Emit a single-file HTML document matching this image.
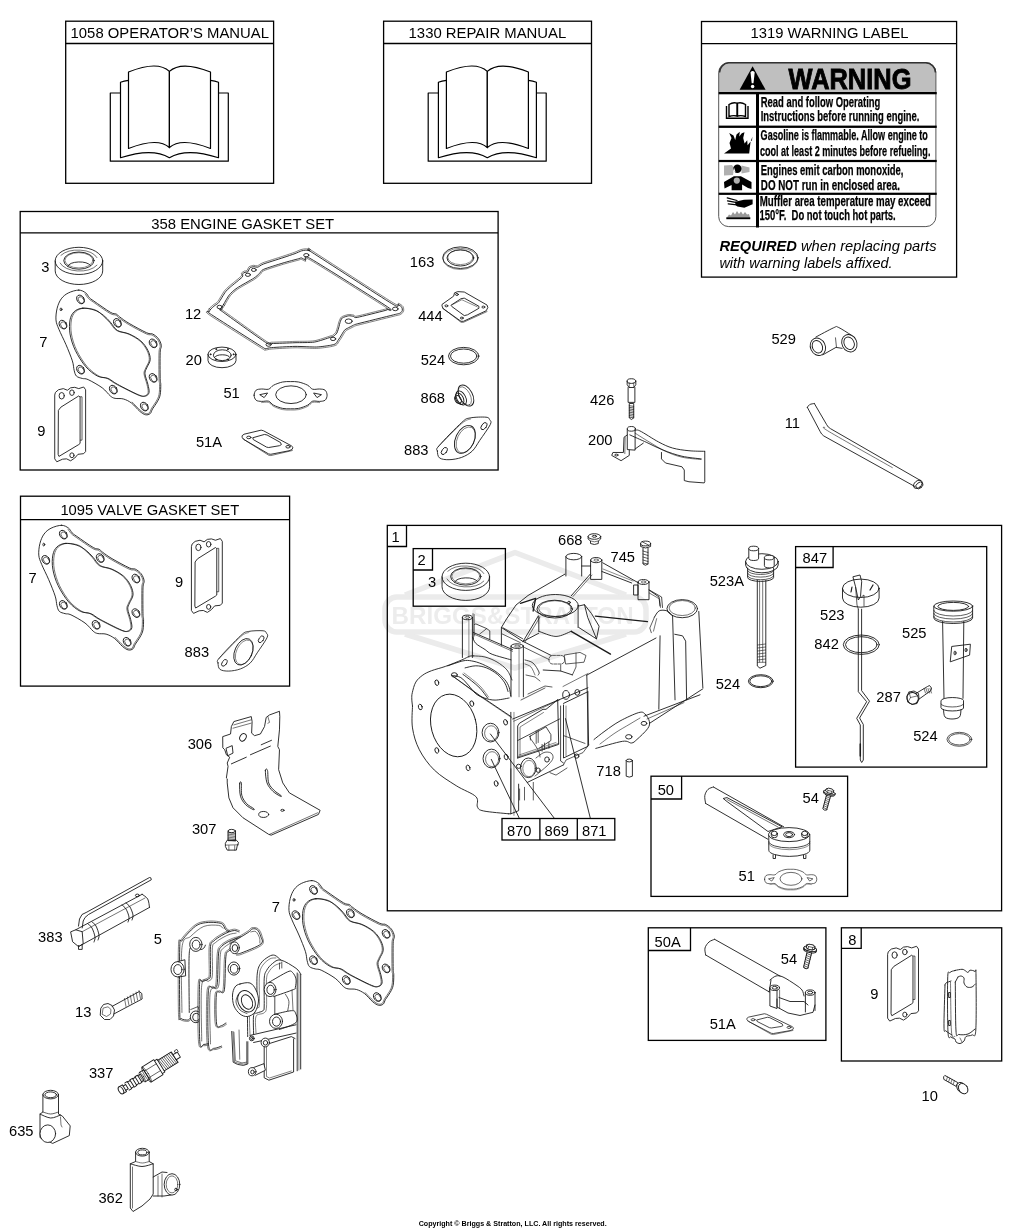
<!DOCTYPE html>
<html><head><meta charset="utf-8">
<style>
html,body{margin:0;padding:0;background:#fff;width:1025px;height:1230px;overflow:hidden}
svg{display:block;will-change:transform}
text{font-family:"Liberation Sans",sans-serif;fill:#000}
.bx{fill:none;stroke:#000;stroke-width:1.3}
.ln{fill:none;stroke:#000;stroke-width:1}
.hd{font-size:14.8px}
.lb{font-size:14.7px}
.pt{fill:none;stroke:#1a1a1a;stroke-width:0.9;stroke-linejoin:round;stroke-linecap:round}
</style></head><body>
<svg width="1025" height="1230" viewBox="0 0 1025 1230">

<defs>
<g id="book" fill="#fff" stroke="#000" stroke-width="1.2" stroke-linejoin="round">
<path d="M120.5 93H110.3V161.2H228.3V93H218.5"/>
<path d="M128.5 80.3Q124 81 120.5 82.2V157.7C135 153 155 149 169.4 157.7C184 149 204 153 218.5 157.7V82.2Q215 81 210.5 80.3"/>
<path d="M169.4 71.4C161 63.5 146 65 128.5 72V148.5C145 142 160 139 169.4 147.5Z"/>
<path d="M169.4 71.4C178 63.5 193 65 210.5 72V148.5C194 142 179 139 169.4 147.5Z"/>
</g>
</defs>
<use href="#book"/>
<use href="#book" x="317.9"/>

<!-- WARNING LABEL -->
<defs><clipPath id="wclip"><rect x="718.7" y="62.6" width="217.2" height="164" rx="10"/></clipPath></defs>
<rect x="718.7" y="62.6" width="217.2" height="31" fill="#bfbfbf" clip-path="url(#wclip)"/>
<rect x="718.7" y="62.6" width="217.2" height="164" rx="10" fill="none" stroke="#555" stroke-width="1"/>
<path d="M719.5 72.6A10 10 0 0 1 728.7 62.8H925.8A10 10 0 0 1 935.5 72.6" fill="none" stroke="#333" stroke-width="1.6"/>
<g fill="#000">
<rect x="718.7" y="92" width="218" height="2.3"/>
<rect x="718.7" y="125.6" width="218" height="2.3"/>
<rect x="718.7" y="159.9" width="218" height="2.2"/>
<rect x="718.7" y="192.7" width="218" height="2.2"/>
<rect x="756" y="93" width="3" height="134.5"/>
<path d="M752.6 66.2L739.6 89.8H765.6Z"/>
</g>
<path d="M750.5 72.3Q752.6 69.8 754.7 72.3L753.5 83.2H751.7Z" fill="#fff"/>
<circle cx="752.6" cy="86.6" r="1.75" fill="#fff"/>
<text x="788.6" y="89.4" style="font-size:29.5px;font-weight:bold;stroke:#000;stroke-width:0.9" textLength="122.8" lengthAdjust="spacingAndGlyphs">WARNING</text>
<g style="font-size:14px;font-weight:bold;stroke:#000;stroke-width:0.25">
<text x="760.7" y="106.8" textLength="119.6" lengthAdjust="spacingAndGlyphs">Read and follow Operating</text>
<text x="760.7" y="120.7" textLength="158.8" lengthAdjust="spacingAndGlyphs">Instructions before running engine.</text>
<text x="760.6" y="140" textLength="167.3" lengthAdjust="spacingAndGlyphs">Gasoline is flammable. Allow engine to</text>
<text x="759.9" y="155.6" textLength="170.5" lengthAdjust="spacingAndGlyphs">cool at least 2 minutes before refueling.</text>
<text x="760.8" y="174.6" textLength="142.6" lengthAdjust="spacingAndGlyphs">Engines emit carbon monoxide,</text>
<text x="760.8" y="189.9" textLength="139.1" lengthAdjust="spacingAndGlyphs">DO NOT run in enclosed area.</text>
<text x="759.7" y="206.2" textLength="171.3" lengthAdjust="spacingAndGlyphs">Muffler area temperature may exceed</text>
<text x="759.4" y="220.3" textLength="136.3" lengthAdjust="spacingAndGlyphs">150°F.&#160; Do not touch hot parts.</text>
</g>
<!-- icons -->
<g fill="none" stroke="#000" stroke-width="1.4">
<path d="M729 104.5Q733 102 737 103.2V116Q733 115 729 116.5Z M745.5 104.5Q741.5 102 737.5 103.2V116Q741.5 115 745.5 116.5Z"/>
<path d="M726.5 106V118.2H748V106"/>
</g>
<path d="M724 153.5L731 148.5L729.5 143L731.5 138L729.2 133L733.5 135.5L735.2 140L736.5 134.5L739.8 131.8L739.2 136.5L741.8 133.2L744.5 132.3L743.2 138L744.6 143.5L747.2 140.2L747.6 145.2L750.6 141.6L749.8 148L749.2 153.5Z" fill="#000"/>
<path d="M750.8 141L752.4 136.8L752 140.5Z" fill="#000"/>
<path d="M724 165.5L732 165L734 168L733 175L724 175.5Z M741.5 165.5L749.5 167.5L749.5 172L741.5 173.5Z" fill="#b0b0b0"/>
<circle cx="737.4" cy="168.8" r="4.2" fill="#000"/>
<path d="M734 167.5L733.2 171.5L735.5 172Z" fill="#fff"/>
<path d="M724 182L733.9 176.2H740.9L751.5 182V189.1L748 188L742.1 184.4V190.2H731.6V185L724.5 188.5Z" fill="#000"/>
<circle cx="736.8" cy="180.6" r="3.1" fill="#b0b0b0"/>
<path d="M735 201.8L744 199.8L752.6 199.6V204.3L744.4 207.8L737.4 206.6L735.5 205Z" fill="#000"/>
<path d="M727.2 197.8L737 200.5M727.5 200.8L737 202.6M728.2 203.8L737 204.8" stroke="#000" stroke-width="1.2" fill="none" stroke-linecap="round"/>
<path d="M727 217.5L729 214.5L731 215.5L733 212L735 214.5L737 211L739 214L741 211.5L743 214.5L745 212L747 214.5L749 214L750 217.5Z" fill="#999"/>
<rect x="726.3" y="217.3" width="24" height="1.9" fill="#000"/>
<text x="719.4" y="251.4" style="font-size:14.7px;font-style:italic"><tspan style="font-weight:bold">REQUIRED</tspan> when replacing parts</text>
<text x="719.4" y="268.3" style="font-size:14.7px;font-style:italic" textLength="173.2" lengthAdjust="spacingAndGlyphs">with warning labels affixed.</text>
<g fill="none" stroke="#ebebeb" stroke-width="5.5" stroke-linejoin="round"><rect x="385" y="597" width="261" height="35" rx="12"/><path d="M405 595L515 552.5L626 595M405 634L515 668L626 634"/></g>
<text x="391.6" y="624.4" textLength="242" lengthAdjust="spacingAndGlyphs" style="font-size:23.8px;font-weight:bold;fill:#ececec">BRIGGS&amp;STRATTON</text>
<defs><g id="hg" class="pt"><path d="M61.61 525.27 C64.54 525.27 66.88 526.93 68.63 528.19 C70.39 529.46 70.78 531.51 72.14 532.88 C73.51 534.24 73.32 533.95 76.83 536.39 C80.34 538.83 89.51 545.36 93.22 547.51 C96.92 549.66 97.51 548.49 99.07 549.27 C100.63 550.05 100.44 550.63 102.58 552.19 C104.73 553.75 107.46 556 111.95 558.63 C116.44 561.27 125.61 566.24 129.51 568 C133.41 569.75 133.41 568.19 135.36 569.17 C137.31 570.14 139.75 571.9 141.22 573.85 C142.68 575.8 143.85 578.53 144.14 580.88 C144.43 583.22 143.17 582.44 142.97 587.9 C142.78 593.36 142.87 608.39 142.97 613.65 C143.07 618.92 143.56 616.78 143.56 619.51 C143.56 622.24 143.56 627.12 142.97 630.04 C142.39 632.97 141.31 634.73 140.04 637.07 C138.78 639.41 136.53 642.14 135.36 644.09 C134.19 646.04 134.19 647.8 133.02 648.78 C131.85 649.75 130.09 650.34 128.34 649.95 C126.58 649.56 124.83 648.39 122.48 646.43 C120.14 644.48 117.02 640.29 114.29 638.24 C111.56 636.19 108.83 634.92 106.09 634.14 C103.36 633.36 100.05 634.04 97.9 633.56 C95.75 633.07 95.36 632.97 93.22 631.22 C91.07 629.46 88.73 625.75 85.02 623.02 C81.32 620.29 74.29 616.39 70.97 614.83 C67.66 613.26 67.07 614.24 65.12 613.65 C63.17 613.07 60.63 612.68 59.27 611.31 C57.9 609.95 57.61 608 56.93 605.46 C56.24 602.92 56.54 600.39 55.17 596.09 C53.8 591.8 50.97 584.97 48.73 579.7 C46.49 574.44 43.37 568.58 41.71 564.49 C40.05 560.39 39.07 558.63 38.78 555.12 C38.49 551.61 39.07 546.93 39.95 543.41 C40.83 539.9 42.19 536.58 44.05 534.05 C45.9 531.51 48.15 529.66 51.07 528.19 C54 526.73 58.68 525.27 61.61 525.27Z"/><path d="M65.12 543.41 C68.44 543.12 73.32 544 76.83 545.17 C80.34 546.34 83.46 548.39 86.19 550.44 C88.92 552.49 90.88 554.93 93.22 557.46 C95.56 560 97.12 563.71 100.24 565.66 C103.36 567.61 108.05 567.41 111.95 569.17 C115.85 570.92 120.53 573.46 123.65 576.19 C126.78 578.92 129.12 582.44 130.68 585.56 C132.24 588.68 133.22 592 133.02 594.92 C132.83 597.85 130.39 600.78 129.51 603.12 C128.63 605.46 127.56 606.24 127.75 608.97 C127.95 611.7 130 616.39 130.68 619.51 C131.36 622.63 132.24 625.75 131.85 627.7 C131.46 629.65 130.09 630.82 128.34 631.22 C126.58 631.61 126 632 121.31 630.04 C116.63 628.09 105.31 622.24 100.24 619.51 C95.17 616.78 94.19 615.02 90.88 613.65 C87.56 612.29 84.05 613.26 80.34 611.31 C76.63 609.36 72.34 606.24 68.63 601.95 C64.93 597.66 60.73 591.02 58.1 585.56 C55.46 580.1 53.71 574.24 52.83 569.17 C51.95 564.1 52.15 558.83 52.83 555.12 C53.51 551.41 54.88 548.88 56.93 546.93 C58.97 544.97 61.8 543.71 65.12 543.41Z"/><path d="M66.53 543.41 C69.84 543.12 75.11 544 78.23 545.17 C81.35 546.34 82.92 548.39 85.26 550.44 C87.6 552.49 89.94 554.93 92.28 557.46 C94.62 560 96.18 563.71 99.3 565.66 C102.43 567.61 107.11 567.41 111.01 569.17 C114.91 570.92 119.6 573.46 122.72 576.19 C125.84 578.92 128.18 582.44 129.74 585.56 C131.3 588.68 132.28 592 132.08 594.92 C131.89 597.85 129.45 600.78 128.57 603.12 C127.69 605.46 126.62 606.24 126.82 608.97 C127.01 611.7 129.06 616.39 129.74 619.51 C130.43 622.63 131.3 625.75 130.91 627.7 C130.52 629.65 129.16 630.82 127.4 631.22 C125.65 631.61 125.06 632 120.38 630.04 C115.69 628.09 104.38 622.24 99.3 619.51 C94.23 616.78 92.87 615.02 89.94 613.65 C87.01 612.29 85.06 613.26 81.74 611.31 C78.43 609.36 73.74 606.24 70.04 601.95 C66.33 597.66 62.14 591.02 59.5 585.56 C56.87 580.1 55.11 574.24 54.23 569.17 C53.36 564.1 53.55 558.83 54.23 555.12 C54.92 551.41 56.28 548.88 58.33 546.93 C60.38 544.97 63.21 543.71 66.53 543.41Z" stroke-width="0.6"/><path d="M67.95 529.14 C68.51 529.9 69.95 532.34 71.32 533.71 C72.69 535.07 72.61 534.88 76.16 537.35 C79.71 539.82 88.9 546.36 92.63 548.52 C96.36 550.68 97 549.54 98.55 550.31 C100.09 551.08 99.76 551.59 101.89 553.14 C104.03 554.7 106.83 556.99 111.36 559.64 C115.88 562.3 125.11 567.3 129.03 569.07 C132.94 570.83 132.96 569.3 134.84 570.22 C136.71 571.13 138.92 572.75 140.28 574.55 C141.64 576.35 142.73 578.8 142.98 581.02 C143.23 583.24 142 582.42 141.8 587.86 C141.6 593.3 141.7 608.4 141.8 613.68 C141.9 618.95 142.38 616.82 142.39 619.51 C142.39 622.2 142.39 626.98 141.82 629.81 C141.26 632.65 140.26 634.23 139.02 636.51 C137.77 638.79 135.48 641.6 134.36 643.49 C133.23 645.38 133.23 646.99 132.27 647.88 C131.31 648.76 130.1 649.19 128.59 648.8 C127.09 648.41 125.5 647.45 123.23 645.53 C120.97 643.62 116.37 638.67 114.99 637.3" stroke-width="0.6"/><ellipse cx="63.36" cy="534.63" rx="3.51" ry="4.68" transform="rotate(-35 63.36 534.63)"/><ellipse cx="63.95" cy="535.22" rx="2.58" ry="3.63" transform="rotate(-35 63.95 535.22)" stroke-width="0.6"/><ellipse cx="45.8" cy="559.8" rx="3.51" ry="4.68" transform="rotate(-35 45.8 559.8)"/><ellipse cx="46.39" cy="560.39" rx="2.58" ry="3.63" transform="rotate(-35 46.39 560.39)" stroke-width="0.6"/><ellipse cx="100.24" cy="558.05" rx="3.51" ry="4.68" transform="rotate(-35 100.24 558.05)"/><ellipse cx="100.83" cy="558.63" rx="2.58" ry="3.63" transform="rotate(-35 100.83 558.63)" stroke-width="0.6"/><ellipse cx="135.95" cy="578.53" rx="3.51" ry="4.68" transform="rotate(-35 135.95 578.53)"/><ellipse cx="136.53" cy="579.12" rx="2.58" ry="3.63" transform="rotate(-35 136.53 579.12)" stroke-width="0.6"/><ellipse cx="63.36" cy="604.87" rx="3.51" ry="4.68" transform="rotate(-35 63.36 604.87)"/><ellipse cx="63.95" cy="605.46" rx="2.58" ry="3.63" transform="rotate(-35 63.95 605.46)" stroke-width="0.6"/><ellipse cx="135.95" cy="613.07" rx="3.51" ry="4.68" transform="rotate(-35 135.95 613.07)"/><ellipse cx="136.53" cy="613.65" rx="2.58" ry="3.63" transform="rotate(-35 136.53 613.65)" stroke-width="0.6"/><ellipse cx="96.14" cy="624.78" rx="3.51" ry="4.68" transform="rotate(-35 96.14 624.78)"/><ellipse cx="96.73" cy="625.36" rx="2.58" ry="3.63" transform="rotate(-35 96.73 625.36)" stroke-width="0.6"/><ellipse cx="127.17" cy="641.75" rx="3.51" ry="4.68" transform="rotate(-35 127.17 641.75)"/><ellipse cx="127.75" cy="642.34" rx="2.58" ry="3.63" transform="rotate(-35 127.75 642.34)" stroke-width="0.6"/><ellipse cx="43.81" cy="544.58" rx="0.94" ry="1.4"/></g></defs>
<use href="#hg"/>
<use href="#hg" x="17.2" y="-235.2"/>
<use href="#hg" x="250.2" y="355.3"/>
<defs><g id="g9" class="pt"><path d="M55.69 392.2 L58.46 389.76 L63.33 388.62 L67.4 390.24 L70.65 387.8 L74.72 387.32 L78.78 388.62 L83.66 386.99 L85.61 389.76 L85.61 451.54 L83.66 453.66 L77.97 454.31 L74.72 458.05 L70.65 460.81 L66.59 458.86 L62.52 459.19 L56.83 461.79 L54.72 458.86 L54.72 395.45Z" stroke-linejoin="round"/><path d="M58.62 410.08 L60.89 407.15 L78.78 395.93 L80.08 397.07 L80.08 443.41 L78.78 444.55 L58.94 456.42 L58.29 454.8Z" stroke-linejoin="round"/><ellipse cx="61.71" cy="395.77" rx="2.6" ry="3.25"/><ellipse cx="71.95" cy="392.68" rx="2.28" ry="2.76"/><ellipse cx="71.95" cy="455.28" rx="2.11" ry="2.44"/><path d="M80.41 396.75 L82.03 396.75 L82.03 440.16 L80.41 440.16" stroke-width="0.7"/></g></defs>
<use href="#g9"/>
<use href="#g9" x="136.7" y="151.60000000000002"/>
<use href="#g9" x="832.9" y="559.3"/>
<defs><g id="seal" class="pt"><path d="M-23.75 0V10A23.75 13.6 0 0 0 23.75 10V0"/><ellipse rx="23.75" ry="13.6"/><ellipse rx="15.2" ry="8.6" cy="-0.3"/><ellipse rx="14" ry="7.6" cy="-0.6" stroke-width="0.5"/><path d="M-11.3 5.5A12 5.6 0 0 1 11.6 4.6"/><path d="M-18 -5.6A20 11 0 0 1 18 -3.3" stroke-width="0.6"/><path d="M-18.8 2.2A20 11 0 0 0 18 4.3" stroke-width="0.6"/></g></defs>
<use href="#seal" x="78.95" y="260.9"/>
<use href="#seal" x="465.8" y="576.8"/>
<g class="pt"><path d="M210.4 309.4 C211.02 308.7 213.83 306.29 214.8 305.5 C215.77 304.71 217.45 304.2 218.7 302.6 C219.95 301 224.13 293.62 225.5 291.8 C226.87 289.98 228.46 288.7 230.4 287 C232.34 285.3 240.68 278.74 242.1 277.2 C243.52 275.66 242.26 274.37 242.6 273.8 C242.94 273.23 244.38 272.53 245 272.3 C245.62 272.07 247.33 272.31 247.9 271.8 C248.47 271.29 249.21 268.5 249.9 267.9 C250.59 267.3 252.89 266.78 253.8 266.7 C254.71 266.62 256.57 267.51 257.7 267.2 C258.83 266.88 260.55 265.11 263.5 264 C266.45 262.89 279.32 258.91 283 257.7 C286.68 256.49 292.85 254.39 295 253.6 C297.15 252.81 300.15 251.3 301.4 250.9 C302.65 250.5 304.7 250.2 305.7 250.2 C306.7 250.2 309.24 250.63 310 250.9 C310.76 251.17 302.68 246.36 312.2 252.5 C321.72 258.64 381.59 297.42 391.6 303.5 C401.61 309.58 396.81 304.17 398 304.6 C399.19 305.03 401.3 306.51 401.8 307.2 C402.3 307.89 402.49 309.81 402.3 310.5 C402.11 311.19 401.2 312.6 400.2 313.1 C399.2 313.6 398.72 313.54 393.7 314.8 C388.68 316.06 361.95 322.65 357.2 323.9 C352.45 325.15 354.12 325 353 325.5 C351.88 326 348.6 327.64 347.6 328.2 C346.6 328.76 345.27 329.24 344.4 330.3 C343.52 331.36 340.86 336.11 340.1 337.3 C339.34 338.49 338.4 339.75 337.9 340.5 C337.4 341.25 336.68 343.14 335.8 343.7 C334.93 344.26 332.65 344.92 330.4 345.3 C328.15 345.69 320.63 346.87 316.5 347 C312.37 347.13 300.23 346.33 295 346.4 C289.77 346.47 275.13 347.34 271.7 347.6 C268.27 347.86 266.79 348.73 265.6 348.6 C264.41 348.47 267.96 350.56 261.5 346.5 C255.04 342.44 216.27 317.88 210.2 313.8 C204.13 309.72 209.48 312.01 209.5 311.5 C209.52 310.99 209.78 310.1 210.4 309.4Z"/><path d="M209.35 308.47 C210.03 307.65 212.95 305.2 213.91 304.42 C214.87 303.63 216.38 303.31 217.6 301.74 C218.82 300.17 222.99 292.8 224.38 290.96 C225.77 289.12 227.53 287.66 229.48 285.95 C231.42 284.23 239.68 277.75 241.07 276.25 C242.46 274.75 240.99 273.7 241.4 273.09 C241.8 272.47 243.86 271.26 244.51 270.99 C245.16 270.72 246.44 271.24 246.96 270.76 C247.49 270.27 248.2 267.48 248.98 266.84 C249.77 266.2 252.7 265.42 253.67 265.31 C254.65 265.19 256.24 266.16 257.32 265.85 C258.41 265.55 260.06 263.8 263.01 262.69 C265.95 261.58 278.89 257.58 282.56 256.37 C286.24 255.16 292.37 253.08 294.51 252.29 C296.66 251.49 299.67 249.97 300.98 249.57 C302.28 249.16 304.59 248.8 305.7 248.8 C306.81 248.8 309.62 249.29 310.47 249.58 C311.31 249.87 303.41 245.17 312.96 251.32 C322.51 257.47 382.35 296.24 392.33 302.3 C402.3 308.37 397.24 302.81 398.48 303.28 C399.71 303.76 402.33 305.49 402.93 306.38 C403.54 307.26 403.9 309.94 403.65 310.87 C403.41 311.8 401.95 313.73 400.83 314.35 C399.7 314.97 399.09 314.89 394.04 316.16 C388.99 317.43 362.28 324.02 357.56 325.25 C352.83 326.49 354.65 326.29 353.57 326.78 C352.49 327.26 349.23 328.91 348.28 329.42 C347.34 329.94 346.3 330.18 345.48 331.19 C344.66 332.2 342.03 336.88 341.28 338.05 C340.53 339.23 339.61 340.48 339.06 341.28 C338.51 342.08 337.54 344.25 336.55 344.88 C335.57 345.51 332.97 346.27 330.64 346.68 C328.3 347.09 320.7 348.27 316.54 348.4 C312.39 348.53 300.24 347.73 295.02 347.8 C289.8 347.87 275.25 348.74 271.8 349 C268.35 349.25 266.74 350.14 265.45 349.99 C264.16 349.84 267.29 351.77 260.76 347.69 C254.22 343.6 215.56 319.19 209.42 314.96 C203.28 310.73 208.11 312.19 208.1 311.44 C208.09 310.68 208.67 309.29 209.35 308.47Z" stroke-width="0.55"/><path d="M223.5 304.5 C224.54 302.76 227.8 296.74 229.4 294.8 C231 292.86 234.35 289.84 237.2 287.9 C240.05 285.96 251.19 279.9 253.8 278.2 C256.41 276.5 258.47 274.33 259.6 273.3 C260.73 272.27 260.77 270.6 263.5 269.4 C266.23 268.2 278.89 264.25 283 263 C287.11 261.75 296.55 259.3 298.7 258.7 C300.85 258.1 300.58 257.75 301.4 257.9 C302.22 258.05 304.57 259.87 305.7 260 C306.83 260.13 301.58 253.55 311.1 259 C320.62 264.45 378.41 300.82 387.3 306.7 C396.19 312.58 387.56 308.96 387.3 309.4 C387.04 309.84 388.61 309.57 385.1 310.5 C381.59 311.43 360.89 316.71 357.2 317.4 C353.51 318.09 354.49 316.59 353.5 316.4 C352.51 316.21 350.02 315.61 348.7 315.8 C347.38 315.99 343.2 317.24 342.2 318 C341.2 318.76 340.47 321.3 340.1 322.3 C339.73 323.3 339.37 325.35 339 326.6 C338.63 327.85 337.53 331.88 336.9 333 C336.27 334.12 334.36 335.7 333.6 336.2 C332.84 336.7 332.65 336.61 330.4 337.3 C328.15 337.99 318.43 341.47 314.3 342.1 C310.17 342.73 299.97 342.54 295 342.7 C290.03 342.86 275.13 343.54 271.7 343.5 C268.27 343.46 271.34 346.11 265.6 342.4 C259.86 338.69 227.76 315.51 222.5 311.7 C217.24 307.88 220.38 310.54 220.5 309.7 C220.62 308.86 222.46 306.24 223.5 304.5Z"/><path d="M224.62 305.17 C225.62 303.5 228.85 297.52 230.4 295.63 C231.96 293.74 235.12 290.88 237.93 288.97 C240.74 287.07 251.88 281.01 254.51 279.29 C257.14 277.57 259.36 275.28 260.47 274.26 C261.58 273.25 261.35 271.76 264.02 270.59 C266.7 269.42 279.29 265.48 283.38 264.24 C287.46 263 296.97 260.54 299.05 259.95 C301.12 259.36 300.4 259.02 301.16 259.18 C301.92 259.33 304.47 261.18 305.55 261.29 C306.64 261.4 301 254.7 310.45 260.13 C319.91 265.55 377.75 302.11 386.58 307.78 C395.42 313.46 386.39 308.58 386.17 308.75 C385.96 308.92 388.17 308.38 384.77 309.24 C381.36 310.1 360.58 315.44 356.96 316.12 C353.34 316.81 354.73 315.31 353.74 315.12 C352.76 314.93 349.96 314.3 348.52 314.51 C347.08 314.73 342.54 316.11 341.42 316.96 C340.29 317.82 339.31 320.77 338.88 321.85 C338.45 322.93 338.12 325 337.75 326.23 C337.39 327.45 336.34 331.33 335.77 332.36 C335.2 333.4 333.55 334.68 332.88 335.12 C332.21 335.55 332.21 335.39 330.02 336.06 C327.83 336.72 318.19 340.19 314.1 340.81 C310.01 341.44 299.9 341.24 294.96 341.4 C290.01 341.56 275.06 342.21 271.71 342.2 C268.37 342.19 271.96 344.99 266.31 341.31 C260.65 337.63 228.46 314.31 223.26 310.65 C218.07 306.98 221.63 310.52 221.79 309.88 C221.95 309.24 223.61 306.83 224.62 305.17Z" stroke-width="0.55"/><ellipse cx="306.3" cy="255.2" rx="2.6" ry="1.69"/><ellipse cx="395.3" cy="308.9" rx="2.8" ry="1.82"/><ellipse cx="348.7" cy="321.2" rx="3.5" ry="2.27"/><ellipse cx="333.1" cy="338.9" rx="2.6" ry="1.69"/><ellipse cx="219.6" cy="307" rx="2.6" ry="1.69"/><ellipse cx="247.9" cy="274.8" rx="2.5" ry="1.62"/><ellipse cx="253.8" cy="269.9" rx="2.4" ry="1.56"/><ellipse cx="268.6" cy="344.6" rx="2.6" ry="1.69"/></g>
<g class="pt"><path d="M208 354.3V360.5A14 7.2 0 0 0 236 360.5V354.3"/><ellipse cx="222" cy="354.3" rx="14" ry="7.2"/><ellipse cx="222.3" cy="355.2" rx="8.9" ry="5.4"/><path d="M214.5 357.5A8 3.6 0 0 1 230 357.5"/><circle cx="233.5" cy="354.3" r="0.5" fill="#333"/><circle cx="227.8" cy="359.5" r="0.5" fill="#333"/><circle cx="216.2" cy="359.5" r="0.5" fill="#333"/><circle cx="210.5" cy="354.3" r="0.5" fill="#333"/><circle cx="216.2" cy="349.1" r="0.5" fill="#333"/><circle cx="227.8" cy="349.1" r="0.5" fill="#333"/></g>
<defs><g id="g51" class="pt"><path d="M-36.5 0 C-36.5 -1.67 -35.75 -3.97 -34.5 -5 C-33.25 -6.03 -31.08 -6.03 -29 -6.2 C-26.92 -6.37 -24 -5.37 -22 -6 C-20 -6.63 -19.33 -8.8 -17 -10 C-14.67 -11.2 -10.83 -12.6 -8 -13.2 C-5.17 -13.8 -2.67 -13.6 0 -13.6 C2.67 -13.6 5.17 -13.8 8 -13.2 C10.83 -12.6 14.67 -11.2 17 -10 C19.33 -8.8 20 -6.63 22 -6 C24 -5.37 26.92 -6.37 29 -6.2 C31.08 -6.03 33.25 -6.03 34.5 -5 C35.75 -3.97 36.5 -1.67 36.5 0 C36.5 1.67 35.75 3.97 34.5 5 C33.25 6.03 31.08 6.03 29 6.2 C26.92 6.37 24 5.37 22 6 C20 6.63 19.33 8.8 17 10 C14.67 11.2 10.83 12.6 8 13.2 C5.17 13.8 2.67 13.6 0 13.6 C-2.67 13.6 -5.17 13.8 -8 13.2 C-10.83 12.6 -14.67 11.2 -17 10 C-19.33 8.8 -20 6.63 -22 6 C-24 5.37 -26.92 6.37 -29 6.2 C-31.08 6.03 -33.25 6.03 -34.5 5 C-35.75 3.97 -36.5 1.67 -36.5 0Z"/><path d="M29 7.4 C27.83 7.37 24 6.57 22 7.2 C20 7.83 19.33 10 17 11.2 C14.67 12.4 10.83 13.8 8 14.4 C5.17 15 2.67 14.8 0 14.8 C-2.67 14.8 -5.17 15 -8 14.4 C-10.83 13.8 -14.67 12.4 -17 11.2 C-19.33 10 -20 7.83 -22 7.2 C-24 6.57 -27.83 7.37 -29 7.4" stroke-width="0.5"/><ellipse cx="0.4" cy="-0.5" rx="15.3" ry="8.85"/><path d="M-30.5 -0.6L-23 -2.2L-26.2 2.1Z M30.5 -0.6L23 -2.2L26.2 2.1Z"/></g></defs>
<use href="#g51" transform="translate(290.6 395.2)"/>
<use href="#g51" transform="translate(790.7 879.2) scale(0.715 0.73)"/>
<defs><g id="g51a" class="pt"><path d="M242.39 435.51 L244 434.23 L261.17 430.15 L263.53 430.79 L291.22 445.71 L292.94 447.32 L292.08 449.47 L289.07 450.75 L270.83 454.29 L268.68 453.97 L244 439.59 L242.39 437.66Z"/><path d="M242.71 438.73 L268.68 455.26 L270.83 455.58 L292.29 450.54" stroke-width="0.6"/><path d="M253.12 437.66 L264.39 434.44 L267.07 434.98 L280.49 442.49 L281.35 444.64 L279.42 445.71 L268.68 447.53 L266.54 447.1 L253.66 439.81Z"/><ellipse cx="248.83" cy="437.45" rx="2.15" ry="1.29"/><ellipse cx="288" cy="446.78" rx="2.15" ry="1.29"/></g></defs>
<use href="#g51a"/>
<use href="#g51a" transform="translate(747.2 1013.7) scale(0.917 0.82) translate(-242.4 -430.1)"/>
<g class="pt"><ellipse cx="460.4" cy="257.7" rx="17.7" ry="10.8"/><ellipse cx="460.4" cy="258.9" rx="17.5" ry="10.6" stroke-width="0.5"/><ellipse cx="460.4" cy="257.9" rx="13.4" ry="8.1"/><ellipse cx="460.4" cy="257.3" rx="12.6" ry="7.3" stroke-width="0.5"/></g>
<g class="pt"><path d="M442.32 304.23 L453.7 296.1 L454.51 292.85 L457.76 291.63 L464.27 292.03 L487.03 305.04 L487.85 307.48 L486.22 310.73 L463.46 321.3 L461.02 321.3 L443.13 308.7 L442.15 306.26Z"/><path d="M442.48 307.89 L461.02 322.28 L463.46 322.28 L487.03 311.54" stroke-width="0.6"/><path d="M451.26 305.04 L461.02 298.7 L464.27 298.13 L478.9 306.26 L478.9 308.29 L467.52 314.8 L464.27 315.61 L452.07 306.67Z"/><path d="M452.48 304.63 L461.83 299.76 L477.28 306.83" stroke-width="0.5"/><ellipse cx="456.95" cy="294.47" rx="1.46" ry="0.98"/><ellipse cx="446.38" cy="305.85" rx="1.46" ry="0.98"/><ellipse cx="483.37" cy="307.07" rx="1.46" ry="0.98"/><ellipse cx="461.83" cy="318.05" rx="1.46" ry="0.98"/></g>
<defs><g id="oring" class="pt"><ellipse rx="15.2" ry="8.7"/><ellipse rx="13.2" ry="7.1"/></g></defs>
<use href="#oring" x="463.7" y="356.1"/>
<g class="pt"><ellipse cx="465.95" cy="395.51" rx="11.42" ry="6.56" transform="rotate(62 465.95 395.51)"/><ellipse cx="464.89" cy="396.04" rx="10.05" ry="5.29" transform="rotate(62 464.89 396.04)" stroke-width="0.5"/><ellipse cx="461.19" cy="397.95" rx="7.61" ry="4.44" transform="rotate(62 461.19 397.95)"/><ellipse cx="459.61" cy="398.79" rx="6.13" ry="3.7" transform="rotate(62 459.61 398.79)"/><ellipse cx="458.02" cy="399.53" rx="4.23" ry="2.96" transform="rotate(62 458.02 399.53)"/></g>
<defs><g id="g883" class="pt"><path d="M437.4 451.03 C437.31 449 434.93 450.5 438.99 445.74 C443.04 440.98 456.52 427.11 461.72 422.48 C466.92 417.84 466.13 418.81 470.18 417.93 C474.24 417.05 482.78 416.87 486.04 417.19 C489.3 417.51 489.04 418.6 489.74 419.84 C490.45 421.07 491.95 421.16 490.27 424.59 C488.6 428.03 482.69 436.05 479.7 440.45 C476.7 444.86 475.29 448.21 472.3 451.03 C469.3 453.85 465.6 455.93 461.72 457.37 C457.85 458.82 452.73 459.61 449.03 459.7 C445.33 459.79 441.46 459.35 439.52 457.9 C437.58 456.46 437.49 453.06 437.4 451.03Z"/><path d="M438.25 446.8 C442.16 442.92 456.31 428.17 461.72 423.54 C467.13 418.9 469.21 419.75 470.71 418.99" stroke-width="0.5"/><ellipse cx="464.89" cy="439.4" rx="9.31" ry="14.8" transform="rotate(25 464.89 439.4)"/><ellipse cx="465.74" cy="439.93" rx="8.46" ry="13.75" transform="rotate(25 465.74 439.93)" stroke-width="0.5"/><ellipse cx="483.93" cy="426.18" rx="2.33" ry="4.02" transform="rotate(35 483.93 426.18)"/><ellipse cx="444.28" cy="451.03" rx="2.33" ry="4.02" transform="rotate(35 444.28 451.03)"/></g></defs>
<use href="#g883"/>
<use href="#g883" transform="translate(218 630.6) scale(0.927 0.948) translate(-437.4 -417)"/>
<g class="pt"><path d="M223.08 736.49 L230.54 734 L231.37 726.54 L233.86 721.56 L251.27 716.59 L252.1 721.56 L251.61 733.17 L254.59 735.66 L260.4 734 L264.54 726.54 L266.2 717.42 L269.52 714.93 L279.47 711.28 L279.8 716.59 L279.47 729.86 L277.81 746.44 L279.47 749.76 L278.64 769.66 L282.79 782.93 L289.42 792.88 L320.11 810.3 L318.45 814.45 L271.18 835.18 L268.69 834.35 L242.98 817.76 L233.03 807.81 L228.88 797.86 L227.22 782.93 L227.22 778.79 L226.39 777.96 L228.05 766.35 L227.22 763.03 L229.71 757.22 L226.39 754.74 L224.74 749.76 L223.08 748.1Z"/><path d="M231.37 763.86 L246.3 757.22"/><path d="M250.44 754.74 L270.35 746.11"/><path d="M261.23 744.78 L271.51 740.31"/><path d="M233.86 724.88 L250.94 719.9" stroke-width="0.6"/><path d="M233.03 728.2 L250.94 723.22" stroke-width="0.6"/><path d="M226.39 748.1 L232.2 745.61 L233.03 753.08 L228.05 755.56Z"/><path d="M239.66 783.76 C239.53 785.97 239.53 792.75 240.49 796.2 C241.46 799.66 243.4 802.28 245.47 804.49 C247.54 806.71 251.55 808.78 252.93 809.47 C254.31 810.16 254.81 809.61 253.76 808.64 C252.71 807.67 248.62 805.88 246.63 803.67 C244.64 801.45 242.7 798.83 241.82 795.37 C240.93 791.92 241.68 784.87 241.32 782.93 C240.96 781 239.8 781.55 239.66 783.76Z"/><path d="M265.37 770.49 C265.29 772.57 265.79 779.48 267.03 782.93 C268.28 786.39 270.62 789.01 272.84 791.23 C275.05 793.44 278.97 795.51 280.3 796.2 C281.63 796.89 281.82 796.34 280.8 795.37 C279.77 794.4 276.18 792.47 274.16 790.4 C272.15 788.32 269.8 786.25 268.69 782.93 C267.58 779.62 268.08 772.57 267.53 770.49 C266.98 768.42 265.46 768.42 265.37 770.49Z"/><ellipse cx="263.71" cy="814.45" rx="4.98" ry="2.99"/><ellipse cx="282.46" cy="810.3" rx="1.66" ry="1"/><ellipse cx="242.98" cy="737.32" rx="2.99" ry="3.98" transform="rotate(30 242.98 737.32)"/><path d="M269.52 834.35 L317.62 812.79" stroke-width="0.6"/><path d="M267.86 716.59 L269.52 722.39 L267.86 723.22" stroke-width="0.6"/></g>
<g class="pt"><path d="M228.05 831.03 L228.05 840.65 L235.52 840.65 L235.52 831.03"/><ellipse cx="231.7" cy="831.03" rx="3.65" ry="1.66"/><path d="M228.05 832.69 L235.52 833.52" stroke-width="0.6"/><path d="M228.05 834.18 L235.52 835.01" stroke-width="0.6"/><path d="M228.05 835.68 L235.52 836.51" stroke-width="0.6"/><path d="M228.05 837.17 L235.52 838" stroke-width="0.6"/><path d="M228.05 838.66 L235.52 839.49" stroke-width="0.6"/><path d="M228.05 840.16 L235.52 840.99" stroke-width="0.6"/><path d="M225.56 842.98 L227.22 840.16 L236.35 840.16 L238.5 842.64 L237.18 845.96 L236.35 850.11 L227.22 850.11 L225.56 846.79Z"/><path d="M225.56 845.13 L238.5 844.8" stroke-width="0.6"/><path d="M228.88 845.63 L228.88 850.11" stroke-width="0.6"/><path d="M234.69 845.63 L234.69 850.11" stroke-width="0.6"/></g>
<g class="pt"><ellipse cx="631.37" cy="381.07" rx="4.33" ry="2.34"/><path d="M627.16 381.31 L627.16 384.58 L629.03 387.51 L633.95 387.51 L635.82 384.58 L635.82 381.31"/><path d="M629.27 382.83 L629.27 387.16" stroke-width="0.6"/><path d="M633.72 382.83 L633.72 387.16" stroke-width="0.6"/><path d="M628.1 387.51 L628.1 402.38 L634.89 402.38 L634.89 387.51"/><path d="M629.27 403.9 L629.27 417.95 L631.37 419.47 L633.72 417.95 L633.72 403.9Z"/><path d="M629.27 405.66 L633.72 406.36" stroke-width="0.7"/><path d="M629.27 407.3 L633.72 408" stroke-width="0.7"/><path d="M629.27 408.93 L633.72 409.64" stroke-width="0.7"/><path d="M629.27 410.57 L633.72 411.28" stroke-width="0.7"/><path d="M629.27 412.21 L633.72 412.92" stroke-width="0.7"/><path d="M629.27 413.85 L633.72 414.55" stroke-width="0.7"/><path d="M629.27 415.49 L633.72 416.19" stroke-width="0.7"/><path d="M629.27 417.13 L633.72 417.83" stroke-width="0.7"/><ellipse cx="631.37" cy="428.84" rx="4.1" ry="2.34"/><path d="M627.28 429.07 L627.28 449.56 L635.12 450.14 L635.12 429.07"/><path d="M635.12 430.83 C635.9 430.83 635.9 428.97 639.8 430.83 C643.71 432.68 653.07 439.08 658.53 441.95 C664 444.82 667.51 446.57 672.58 448.04 C677.66 449.5 683.65 450.18 688.97 450.73 C694.3 451.27 701.95 451.22 704.54 451.31"/><path d="M629.85 434.92 C632.68 436.19 641.27 440 646.83 442.53 C652.39 445.07 657.36 447.86 663.22 450.14 C669.07 452.43 675.61 454.77 681.95 456.23 C688.29 457.69 698.04 458.47 701.26 458.92"/><path d="M635.12 433.17 C637.46 434.63 644.1 438.92 649.17 441.95 C654.24 444.97 660.1 448.78 665.56 451.31 C671.02 453.85 676.06 455.8 681.95 457.17 C687.84 458.53 697.75 459.12 700.91 459.51" stroke-width="0.6"/><path d="M635.12 448.97 L643.32 443.12"/><path d="M661.46 452.48 L661.46 458.92 L665.56 463.02 L681.95 466.77 L684.29 470.04 L684.29 480.58 L688.97 481.75 L704.19 482.92 L704.78 481.75 L704.78 451.31"/><path d="M627.28 434.92 L624 437.27 L623.41 452.48 L612.88 452.48 L611.71 455.41 L621.07 460.68 L629.27 455.41 L629.27 450.14"/><path d="M625.17 437.5 L624.82 453.65" stroke-width="0.6"/><ellipse cx="616.39" cy="455.06" rx="1.64" ry="0.94"/></g>
<g class="pt"><path d="M815.86 337.04 C818.82 335.5 829.9 329.39 833.63 327.77 C837.37 326.15 835.44 326.15 838.27 327.31 C841.1 328.47 848.57 333.49 850.63 334.73"/><path d="M822.82 354.82 L835.95 347.4 L842.13 348.32"/><path d="M835.49 337.82 L836.42 346.78" stroke-width="0.7"/><ellipse cx="817.87" cy="346.78" rx="7.42" ry="8.96" transform="rotate(-25 817.87 346.78)"/><ellipse cx="817.41" cy="346.78" rx="4.95" ry="6.49" transform="rotate(-25 817.41 346.78)"/><ellipse cx="849.4" cy="343.23" rx="7.42" ry="8.96" transform="rotate(-25 849.4 343.23)"/><ellipse cx="849.09" cy="343.23" rx="4.95" ry="6.49" transform="rotate(-25 849.09 343.23)"/><path d="M807.36 407.36 L820.03 431.31 L821.58 433.94 L823.74 435.95 L914.77 486.48"/><path d="M814.32 403.49 L826.68 424.67 L828.23 426.98 L830.54 428.68 L920.95 480.76"/><path d="M807.36 407.36 C807.75 406.89 808.52 405.22 809.68 404.58 C810.84 403.93 813.54 403.67 814.32 403.49"/><path d="M825.13 427.45 C825.83 428.17 818.1 425.08 829.31 431.77 C840.51 438.47 881.85 461.65 892.36 467.63" stroke-width="0.6"/><ellipse cx="917.86" cy="484.32" rx="3.4" ry="4.95" transform="rotate(50 917.86 484.32)"/><ellipse cx="919.4" cy="485.4" rx="2.78" ry="4.02" transform="rotate(50 919.4 485.4)"/></g>
<g class="pt"><path d="M508.65 813.79 C504.49 813.32 488.88 812.13 483.67 810.98 C478.47 809.84 478.73 809.32 477.43 806.92 C476.13 804.53 479.4 800.16 475.87 796.62 C472.33 793.08 463.12 790.12 456.2 785.69 C449.28 781.27 440.48 776.07 434.34 770.08 C428.2 764.1 423 756.81 419.36 749.79 C415.71 742.76 413.63 735.22 412.49 727.93 C411.34 720.65 412.49 709.72 412.49 706.08"/><path d="M412.5 706.1 C412.38 704.92 411.83 701.23 411.8 699 C411.77 696.77 411.63 695.52 412.3 692.7 C412.97 689.88 414.05 685.03 415.8 682.1 C417.55 679.17 420.17 677 422.8 675.1 C425.43 673.2 427.78 672.17 431.6 670.7 C435.42 669.23 440.65 668.1 445.7 666.3 C450.75 664.5 457.95 661.57 461.9 659.9 C465.85 658.23 467.43 656.97 469.4 656.3 C471.37 655.63 472.98 655.97 473.7 655.9"/><ellipse cx="453.7" cy="725.44" rx="22.48" ry="31.85" transform="rotate(-15 453.7 725.44)"/><ellipse cx="436.84" cy="682.66" rx="1.87" ry="2.81" transform="rotate(-15 436.84 682.66)"/><ellipse cx="420.29" cy="707.02" rx="1.87" ry="2.81" transform="rotate(-15 420.29 707.02)"/><ellipse cx="471.81" cy="703.58" rx="1.87" ry="2.81" transform="rotate(-15 471.81 703.58)"/><ellipse cx="436.84" cy="750.41" rx="1.87" ry="2.81" transform="rotate(-15 436.84 750.41)"/><ellipse cx="468.06" cy="767.9" rx="1.87" ry="2.81" transform="rotate(-15 468.06 767.9)"/><ellipse cx="505.53" cy="722.32" rx="1.87" ry="2.81" transform="rotate(-15 505.53 722.32)"/><ellipse cx="506.15" cy="756.97" rx="1.87" ry="2.81" transform="rotate(-15 506.15 756.97)"/><ellipse cx="496.16" cy="783.51" rx="1.87" ry="2.81" transform="rotate(-15 496.16 783.51)"/><ellipse cx="490.54" cy="732.62" rx="8.43" ry="9.37"/><ellipse cx="491.16" cy="733.24" rx="6.56" ry="7.49" stroke-width="0.6"/><ellipse cx="491.48" cy="758.53" rx="8.43" ry="9.37"/><ellipse cx="492.1" cy="759.16" rx="6.56" ry="7.49" stroke-width="0.6"/><path d="M510.83 712.32 L510.83 813.79"/><path d="M508.65 813.79 L510.83 813.79 L518.64 810.67 L518.64 784.13"/><path d="M513.96 712.32 L513.96 815.35" stroke-width="0.5"/><path d="M512.8 719 L587.9 687.8"/><path d="M513.8 721.2 L559.6 699.8" stroke-width="0.6"/><path d="M586.8 675.2 L588.6 745"/><path d="M517.7 758 L517.7 726 L519.5 723.2 L543 709.3 L546 709.3 L550.9 705.4 L557.7 699.5 L558.7 744.4 L517.7 758"/><path d="M520 756 L520 727 L543.5 712.5" stroke-width="0.55"/><path d="M517.7 740.5 L559.6 719" stroke-width="0.8"/><path d="M517.7 757 L558.7 743.4" stroke-width="0.6"/><path d="M519 755 L556 742.5" stroke-width="0.5"/><path d="M529.4 736.6 L546 726.8 L550.9 734.6 L550.9 740.5 L539.1 748.3" stroke-width="0.8"/><path d="M536.2 731 L536.2 743.5" stroke-width="0.7"/><path d="M538.2 730 L538.2 742.5" stroke-width="0.7"/><path d="M530.4 736 L530.4 740" stroke-width="0.7"/><path d="M542.1 744.4 L542.1 751.2" stroke-width="0.7"/><path d="M544.5 743 L544.5 749.5" stroke-width="0.7"/><path d="M548.9 742.5 L548.9 748.3" stroke-width="0.7"/><path d="M530 738 C530.83 739.17 533.5 742.67 535 745 C536.5 747.33 538.17 750 539 752 C539.83 754 539.83 756.17 540 757" stroke-width="0.7"/><ellipse cx="528.4" cy="767.8" rx="7.8" ry="9.8" fill="#fff"/><ellipse cx="529" cy="768.5" rx="6.2" ry="8.2" stroke-width="0.55"/><path d="M536 758 C537.33 757.08 541.5 753.33 544 752.5 C546.5 751.67 549.5 752.08 551 753 C552.5 753.92 553.33 756.17 553 758 C552.67 759.83 551.17 761.67 549 764 C546.83 766.33 542.33 770 540 772 C537.67 774 535.83 775.33 535 776" stroke-width="0.7"/><ellipse cx="518.7" cy="766.3" rx="2.3" ry="2.1"/><ellipse cx="538.2" cy="770.2" rx="2" ry="2.2"/><ellipse cx="547" cy="759.5" rx="2.3" ry="2.6"/><path d="M510.9 768.8 L510.9 800" stroke-width="0.7"/><path d="M519.6 789 L519.6 800" stroke-width="0.7"/><path d="M524.5 787.3 L524.5 800" stroke-width="0.7"/><path d="M533.3 782.4 L533.3 800" stroke-width="0.7"/><path d="M527.4 782.4 L563.5 764.9"/><path d="M550 772.7 L556 775.1 L567 768" stroke-width="0.7"/><path d="M563.5 764.9 L566 760 L583 752.6 L588.6 745" stroke-width="0.7"/><path d="M563.5 703.4 L587.9 691.7"/><path d="M560.6 706 L560.6 761 L563.5 763" stroke-width="0.8"/><path d="M563.5 705 L563.5 758 L587.9 746.3 L587.9 692" stroke-width="0.9"/><path d="M566 706 L566 755.5" stroke-width="0.55"/><path d="M563.5 735.6 L585 743.4" stroke-width="0.7"/><ellipse cx="576.7" cy="756.1" rx="2.2" ry="2.1"/><path d="M586.7 675.17 L656.01 638.02"/><path d="M594 739.5 C595.83 738.08 600.67 734.08 605 731 C609.33 727.92 614.38 724.07 620 721 C625.62 717.93 634.53 713.77 638.7 712.6 C642.87 711.43 643.22 712.5 645 714 C646.78 715.5 648.97 719.15 649.4 721.6 C649.83 724.05 649.68 725.72 647.6 728.7 C645.52 731.68 639.58 737.12 636.9 739.5 C634.22 741.88 633.88 742.7 631.5 743 C629.12 743.3 628.55 740.4 622.6 741.3 C616.65 742.2 600.27 747.22 595.8 748.4"/><path d="M600 744 C602.5 742.17 610 736.33 615 733 C620 729.67 625.83 726.5 630 724 C634.17 721.5 638.33 719 640 718" stroke-width="0.6"/><ellipse cx="644" cy="723.4" rx="2.8" ry="2"/><ellipse cx="628.8" cy="736.8" rx="3.2" ry="2.2"/><path d="M644 716.2 L700 694.8"/><path d="M649.4 723.4 L702.9 688.8"/><path d="M647 719 L684 702.6" stroke-width="0.6"/><path d="M660.07 635.83 L658.82 709.2"/><path d="M672.56 615.54 L675.05 699.84"/><path d="M698.78 611.48 L702.84 687.66"/><ellipse cx="682.24" cy="608.67" rx="15.3" ry="9.05"/><ellipse cx="682.24" cy="608.05" rx="13.11" ry="7.49" stroke-width="0.6"/><path d="M674.74 634.27 L682.55 635.83 L685.67 641.14 L686.61 699.84"/><path d="M654.45 617.1 C655.23 616.06 657.05 611.9 659.13 610.86 C661.21 609.82 664.7 610.08 666.94 610.86 C669.17 611.64 671.62 614.76 672.56 615.54"/><path d="M654.45 617.1 L649.77 628.03 L651.33 632.71" stroke-width="0.7"/><path d="M656.63 618.66 L653.51 631.15" stroke-width="0.6"/><ellipse cx="573.8" cy="556.6" rx="7.9" ry="3.2"/><path d="M565.9 556.6 L565.9 576"/><path d="M581.7 556.6 L581.7 576"/><ellipse cx="596.2" cy="560.1" rx="5.6" ry="2.6"/><ellipse cx="596.2" cy="560.1" rx="2.2" ry="1.1" stroke-width="0.6"/><path d="M590.6 560.1 L590.6 579.4 L601.8 579.4 L601.8 560.1"/><ellipse cx="643.5" cy="582" rx="5.5" ry="2.5"/><ellipse cx="643.5" cy="582" rx="2.2" ry="1.1" stroke-width="0.6"/><path d="M638 582 L638 599.7 L649 599.7 L649 582"/><path d="M634 585 L638 585 L638 595 L634 595Z"/><path d="M602.7 562.8 L638.7 583"/><path d="M601.9 571.5 L631.7 583"/><path d="M603 569 L633 581" stroke-width="0.5"/><path d="M649 590 L659 597 L660 606"/><path d="M581.7 566 L590.6 566"/><ellipse cx="467.4" cy="617.4" rx="5" ry="2.3"/><ellipse cx="467.4" cy="617.4" rx="2.25" ry="1" stroke-width="0.6"/><path d="M462.4 617.4 L462.4 657.5"/><path d="M472.4 617.4 L472.4 657.5"/><path d="M468.9 619.4 L468.9 657.5" stroke-width="0.5"/><ellipse cx="517.2" cy="646.1" rx="6.2" ry="2.3"/><ellipse cx="517.2" cy="646.1" rx="2.79" ry="1" stroke-width="0.6"/><path d="M511 646.1 L511 696.8"/><path d="M523.4 646.1 L523.4 696.8"/><path d="M519.06 648.1 L519.06 696.8" stroke-width="0.5"/></g>
<g class="pt"><path d="M447.9 665.8 C450.4 664.98 458.97 661.72 462.9 660.9 C466.83 660.08 468.28 660.37 471.5 660.9 C474.72 661.43 478.27 662.4 482.2 664.1 C486.13 665.8 491.33 668.5 495.1 671.1 C498.87 673.7 502.47 677.02 504.8 679.7 C507.13 682.38 508.12 684.52 509.1 687.2 C510.08 689.88 510.43 694.37 510.7 695.8"/><path d="M473.7 655.9 C475.58 656.08 481.12 655.98 485 657 C488.88 658.02 493.33 659.83 497 662 C500.67 664.17 504.5 667 507 670 C509.5 673 511.17 678.33 512 680" stroke-width="0.8"/><path d="M465.1 667.9 C466.88 667.55 472.23 665.8 475.8 665.8 C479.37 665.8 482.92 666.48 486.5 667.9 C490.08 669.32 494.25 671.8 497.3 674.3 C500.35 676.8 503.02 680.03 504.8 682.9 C506.58 685.77 507.47 690.07 508 691.5"/><path d="M462.9 674.3 C464.33 675.38 468.63 678.47 471.5 680.8 C474.37 683.13 477.42 685.43 480.1 688.3 C482.78 691.17 486.35 696.38 487.6 698"/><path d="M464 673 C465.42 674.08 469.67 677.17 472.5 679.5 C475.33 681.83 478.32 684.08 481 687 C483.68 689.92 487.33 695.33 488.6 697" stroke-width="0.5"/><path d="M452.2 675.4 C453.63 675.77 458.12 675.98 460.8 677.6 C463.48 679.22 465.8 682.42 468.3 685.1 C470.8 687.78 473.12 691.55 475.8 693.7 C478.48 695.85 481.18 696.93 484.4 698 C487.62 699.07 490.98 700.1 495.1 700.1 C499.22 700.1 506.77 698.35 509.1 698"/><path d="M453.3 676.5 L480.1 695.8 L511.2 716.7"/><path d="M454.5 677.5 L481 697 L512 718" stroke-width="0.5"/><ellipse cx="454.3" cy="674.9" rx="3" ry="2.2"/><path d="M472.6 637.2 C473.13 638.23 473.72 641.33 475.8 643.4 C477.88 645.47 482.37 647.78 485.1 649.6 C487.83 651.42 487.9 652.6 492.2 654.3 C496.5 656 507.78 658.88 510.9 659.8"/><path d="M473 613.7 L473.4 638.7" stroke-width="0.7"/><path d="M474.3 614.5 L474.6 636" stroke-width="0.5"/><path d="M473.4 632.5 L512.5 649.6"/><path d="M474.2 634.2 L512.5 651.3" stroke-width="0.6"/><path d="M474.5 624.5 L475.8 623.9 L486.7 628.6 L489.8 630.9 L489.8 638.7" stroke-width="0.8"/><path d="M479.7 634 L486.7 628.6" stroke-width="0.7"/><path d="M503 627.8 L522.6 638.7" stroke-width="0.8"/><path d="M502.3 634 L520.3 642.6" stroke-width="0.7"/></g>
<g class="pt"><path d="M501.4 645.3 L501.4 627.5 L506.5 619 L516 605 L528 595.5 L564.8 574.2"/><path d="M501.4 627.5 L523 641.5"/><path d="M523 641.5 L538.8 633.2"/><path d="M520.4 603.4 L535.7 598.3 L533.1 611" stroke-width="1.3"/><ellipse cx="555.3" cy="605.5" rx="23" ry="11"/><ellipse cx="554.7" cy="609.1" rx="17.8" ry="8.9"/><ellipse cx="555" cy="608.6" rx="16.3" ry="7.9" stroke-width="0.6"/><ellipse cx="569" cy="602.5" rx="1.3" ry="1.3"/><path d="M538.8 616 L538.8 631.3"/><path d="M578.1 606 L578.1 627.5"/><path d="M538.8 631.3 C541.67 632.15 550.6 636.4 556 636.4 C561.4 636.4 568.67 632.15 571.2 631.3"/><path d="M578.8 606 L584.5 604.7 L591.5 613.6 L599.1 626.2 L596.5 638.9 L578.8 627.5"/><path d="M584.5 604.7 L587.7 617.4 L596.5 638.9"/><path d="M595.3 616.1 L647.5 621.6" stroke-width="1.2"/><path d="M571.2 631.3 L610.5 654.1" stroke-width="1.4"/><path d="M590.2 574.2 L571.2 595.8"/><path d="M592 575 L573 596.5" stroke-width="0.6"/><path d="M538.2 616.1 L523 641.5"/><path d="M540 617 L525 642" stroke-width="0.6"/></g>
<g class="pt"><rect x="549" y="655.4" width="15.6" height="8.6" rx="3.5" stroke-width="0.7" stroke-dasharray="3 1.2"/><path d="M564.6 655 L580 652.4 L586 655.5 L584 662.2 L566 664Z" stroke-width="0.7"/><path d="M576 653 L576 667 L572.4 674.9" stroke-width="0.7"/><path d="M543.2 670 L560.7 671 L572.4 674.9"/><path d="M560.7 671 L560.7 665" stroke-width="0.7"/><ellipse cx="566.1" cy="694.9" rx="3.4" ry="4.4"/><ellipse cx="577.3" cy="692.4" rx="2.4" ry="2.9"/><path d="M563 686.5 L588 673.5" stroke-width="0.6"/><path d="M523.7 641.7 L551 655.4"/><path d="M524.5 647.5 L549 659.5" stroke-width="0.7"/><path d="M526 675 L535 677 L540 681" stroke-width="0.7"/><path d="M525 660 C526.33 660.5 530.67 661 533 663 C535.33 665 538.17 670 539 672 C539.83 674 538.17 674.5 538 675" stroke-width="0.8"/><path d="M525 664 C526 664.5 529.33 665.17 531 667 C532.67 668.83 534.33 673.67 535 675" stroke-width="0.6"/><path d="M528 694 L545 686 L552 687" stroke-width="0.7"/><path d="M521 700 L545 688" stroke-width="0.7"/><path d="M649.3 590 L661.6 597 L662.5 607.5" stroke-width="0.8"/><path d="M649.3 593 L659.6 599 L660.5 607.5" stroke-width="0.6"/></g>
<g class="pt" stroke-width="0.8"><path d="M519.4 818.5L491.3 759.4"/><path d="M554.5 818.5L490.4 734"/><path d="M590.4 818.5L565.5 718.6"/></g>
<g class="pt"><path d="M626.2 760.5V776.2Q629.3 778 632.4 776.2V760.5"/><ellipse cx="629.3" cy="760.5" rx="3.1" ry="1.4"/></g>
<g class="pt"><ellipse cx="594.4" cy="536.5" rx="6.3" ry="2.8"/><ellipse cx="594.4" cy="536.3" rx="2.2" ry="1"/><path d="M588.1 536.5V539L590.5 541V543.5Q594.4 545.5 598.3 543.5V541L600.7 539V536.5"/><path d="M590.5 541Q594.4 542.8 598.3 541" stroke-width="0.6"/></g>
<g class="pt"><ellipse cx="645.6" cy="543.5" rx="5" ry="2.4"/><path d="M640.6 543.5V546.5Q645.6 549.5 650.6 546.5V543.5"/><path d="M642.5 542L648.5 545" stroke-width="0.7"/><path d="M643 548V564Q645.3 566.5 648 564V548"/><path d="M643 551L648 552.5M643 554L648 555.5M643 557L648 558.5M643 560L648 561.5M643 563L648 564" stroke-width="0.7"/></g>
<g class="pt"><path d="M745.6 561.5V565A16.3 7.8 0 0 0 778.2 565V561.5"/><ellipse cx="761.9" cy="561.5" rx="16.3" ry="7.8"/><path d="M747.6 568V577.5A13 3.9 0 0 0 773.6 577.5V568"/><path d="M747.6 570.6A13 3.9 0 0 0 773.6 570.6" stroke-width="0.7"/><path d="M747.6 573.2A13 3.9 0 0 0 773.6 573.2" stroke-width="0.7"/><path d="M747.6 575.8A13 3.9 0 0 0 773.6 575.8" stroke-width="0.7"/><path d="M748.8000000000001 548.5V558.2A4.9 2.3 0 0 0 758.6 558.2V548.5" fill="#fff"/><ellipse cx="753.7" cy="548.5" rx="4.9" ry="2.3" fill="#fff"/><path d="M764.4 557.6V565.6A4.9 2.3 0 0 0 774.1999999999999 565.6V557.6" fill="#fff"/><ellipse cx="769.3" cy="557.6" rx="4.9" ry="2.3" fill="#fff"/><path d="M757.3 580.3 L757.3 666 L760 668.2 L765.8 665.5 L765.8 580.3"/><path d="M759.6 581 L759.6 662" stroke-width="0.6"/><path d="M762.7 581 L762.7 662" stroke-width="0.6"/><path d="M757.5 645 L765.6 644" stroke-width="0.6"/><path d="M757.5 648 L765.6 647" stroke-width="0.6"/><path d="M757.5 651 L765.6 650" stroke-width="0.6"/><path d="M757.5 654 L765.6 653" stroke-width="0.6"/><path d="M757.5 657 L765.6 656" stroke-width="0.6"/><path d="M757.5 660 L765.6 659" stroke-width="0.6"/><path d="M757.5 662.3 L765.6 662.3" stroke-width="0.6"/></g>
<g class="pt"><ellipse cx="760.8" cy="681.2" rx="12.4" ry="6.5"/><ellipse cx="760.8" cy="681.2" rx="11" ry="5.4"/></g>
<g class="pt"><path d="M842.5 588.3V598A18.3 9.2 0 0 0 879.1 598V588.3"/><ellipse cx="860.8" cy="588.3" rx="18.3" ry="9.2"/><path d="M853.3 576.7 L860 575 L861.7 581.7 L860.5 596.7 L858.3 600 L855.6 587Z"/><path d="M855.6 587 L857 605 L858.3 609" stroke-width="0.7"/><path d="M861.7 596.7 L864 595 L864 606" stroke-width="0.7"/><path d="M870 590 L873 585" stroke-width="1.2"/><path d="M851 592 L852 587" stroke-width="1.2"/><path d="M858.3 609.2 L858.3 691.7 L866.7 701.7 L856.7 718.3 L860.3 725 L860.3 760 L861.7 762.5 L863.3 760 L863.3 724.5 L859.6 718 L869.5 701.2 L861.6 690.6 L861.6 609.2"/><path d="M860.3 744 L860.3 756" stroke-width="1.5"/></g>
<g class="pt"><ellipse cx="861.3" cy="644.7" rx="18" ry="9.7"/><ellipse cx="861.3" cy="644.7" rx="15.8" ry="8"/></g>
<g class="pt"><path d="M933.8 606.1V618A19.4 5.5 0 0 0 972.6 618V606.1"/><ellipse cx="953.3" cy="606.1" rx="19.4" ry="5.1"/><ellipse cx="953.3" cy="606.4" rx="15.4" ry="4"/><path d="M933.8 610.5A19.4 5.5 0 0 0 972.6 610.5" stroke-width="0.7"/><path d="M933.8 613.5A19.4 5.5 0 0 0 972.6 613.5" stroke-width="0.7"/><path d="M933.8 616.5A19.4 5.5 0 0 0 972.6 616.5" stroke-width="0.7"/><path d="M942.6 621.5 L944 698.3"/><path d="M963.8 621.5 L963 698.3"/><path d="M952.1 646.4 L970.4 644.2 L969.6 655.1 L950.6 661.7Z"/><ellipse cx="955" cy="653" rx="1" ry="2"/><ellipse cx="966" cy="650" rx="1" ry="1.8"/><path d="M941 700.5A11 2.9 0 0 1 963.5 700.5V708A11 2.9 0 0 1 941 708Z"/><path d="M941 704A11 2.9 0 0 0 963.5 704" stroke-width="0.7"/><path d="M943.5 709.5 C943.75 710.75 943.58 715.42 945 717 C946.42 718.58 949.58 719 952 719 C954.42 719 958 718.58 959.5 717 C961 715.42 960.75 710.75 961 709.5"/></g>
<use href="#oring" transform="translate(959.4 739.3) scale(0.816 0.8)"/>
<g class="pt"><path d="M915 694 L927.5 686.5 L929.5 685.5 L931.5 688 L931 690.5 L918.5 699.5"/><path d="M924 688.5 L925.5 693" stroke-width="0.6"/><path d="M926 688.5 L927.5 693" stroke-width="0.6"/><path d="M928 688.5 L929.5 693" stroke-width="0.6"/><path d="M930 688.5 L931.5 693" stroke-width="0.6"/><ellipse cx="912.6" cy="698.3" rx="5.6" ry="5.9" transform="rotate(-30 912.6 698.3)" fill="#fff"/><path d="M907 696 L909 692 L914 691 L918.5 693.5 L919 699 L917 703.5 L912 704.5 L908 702Z"/><path d="M909 692 L910.5 697.5 L908 702" stroke-width="0.6"/><path d="M910.5 697.5 L917 696" stroke-width="0.6"/></g>
<g class="pt"><path d="M713.4 787 L783.7 826.8"/><path d="M705.6 803.4 L768 839.3"/><path d="M713.4 787 C712.5 787.4 709.43 787.97 708 789.4 C706.57 790.83 705.2 793.27 704.8 795.6 C704.4 797.93 705.47 802.1 705.6 803.4"/><path d="M723.6 798.4 L727 797.6 L782.1 826.8 L768 831.5 L727.5 801.9Z"/><path d="M727 799.5 L778 827" stroke-width="0.6"/><path d="M768.8 834.6V850.2A20.5 6.2 0 0 0 809.8 850.2V834.6" fill="#fff"/><ellipse cx="789.1" cy="834.6" rx="20.5" ry="7" fill="#fff"/><path d="M768.8 841.7A20.5 6.2 0 0 0 809.8 841.7" stroke-width="0.8"/><path d="M768.8 843.5A20.5 6.2 0 0 0 809.8 843.5" stroke-width="0.5"/><ellipse cx="789.1" cy="834.6" rx="5.5" ry="3.1"/><ellipse cx="789.1" cy="834.6" rx="3.5" ry="2"/><ellipse cx="774.3" cy="833.4" rx="3" ry="2.2" fill="#fff"/><path d="M771.3 833.4V835.5A3 2.2 0 0 0 777.3 835.5V833.4"/><path d="M773.0999999999999 855V858.5H775.5V855"/><ellipse cx="804.7" cy="833.4" rx="3" ry="2.2" fill="#fff"/><path d="M801.7 833.4V835.5A3 2.2 0 0 0 807.7 835.5V833.4"/><path d="M803.5 855V858.5H805.9000000000001V855"/></g>
<g class="pt" transform="translate(829.8 791) rotate(14) scale(0.95)"><path d="M-6.2 1.6A6.2 2.2 0 0 0 6.2 1.6V3A6.2 2.2 0 0 1 -6.2 3Z" fill="#fff"/><ellipse cx="0" cy="1.6" rx="6.2" ry="2.2" fill="#fff"/><path d="M-4 -1.3L-2 -2.6L2 -2.6L4 -1.3L4 1.2L2 2.3L-2 2.3L-4 1.2Z" fill="#fff"/><path d="M-4 -1.3L-2 -0.2L2 -0.2L4 -1.3M-2 -0.2V2.3M2 -0.2V2.3" stroke-width="0.6"/><path d="M-2.3 4.8L-2.6 20Q-0.6 21.6 1.6 20.3L2.1 5"/><path d="M-2.4 6.50L1.95 7.40" stroke-width="0.6"/><path d="M-2.4 8.50L1.95 9.40" stroke-width="0.6"/><path d="M-2.4 10.50L1.95 11.40" stroke-width="0.6"/><path d="M-2.4 12.50L1.95 13.40" stroke-width="0.6"/><path d="M-2.4 14.50L1.95 15.40" stroke-width="0.6"/><path d="M-2.4 16.50L1.95 17.40" stroke-width="0.6"/><path d="M-2.4 18.50L1.95 19.40" stroke-width="0.6"/></g>
<g class="pt" transform="translate(810.6 947.2) rotate(12) scale(1.05)"><path d="M-6.2 1.6A6.2 2.2 0 0 0 6.2 1.6V3A6.2 2.2 0 0 1 -6.2 3Z" fill="#fff"/><ellipse cx="0" cy="1.6" rx="6.2" ry="2.2" fill="#fff"/><path d="M-4 -1.3L-2 -2.6L2 -2.6L4 -1.3L4 1.2L2 2.3L-2 2.3L-4 1.2Z" fill="#fff"/><path d="M-4 -1.3L-2 -0.2L2 -0.2L4 -1.3M-2 -0.2V2.3M2 -0.2V2.3" stroke-width="0.6"/><path d="M-2.3 4.8L-2.6 20Q-0.6 21.6 1.6 20.3L2.1 5"/><path d="M-2.4 6.50L1.95 7.40" stroke-width="0.6"/><path d="M-2.4 8.50L1.95 9.40" stroke-width="0.6"/><path d="M-2.4 10.50L1.95 11.40" stroke-width="0.6"/><path d="M-2.4 12.50L1.95 13.40" stroke-width="0.6"/><path d="M-2.4 14.50L1.95 15.40" stroke-width="0.6"/><path d="M-2.4 16.50L1.95 17.40" stroke-width="0.6"/><path d="M-2.4 18.50L1.95 19.40" stroke-width="0.6"/></g>
<g class="pt"><path d="M714.6 939.3 L780.2 976.2"/><path d="M705.7 955 L769.2 991.9"/><path d="M714.6 939.3 C713.67 939.75 710.6 940.55 709 942 C707.4 943.45 705.55 945.83 705 948 C704.45 950.17 705.58 953.83 705.7 955"/><path d="M770 980 C771 979.33 773.83 976.5 776 976 C778.17 975.5 779.67 975.5 783 977 C786.33 978.5 792.83 982.83 796 985 C799.17 987.17 800.67 988.17 802 990 C803.33 991.83 803.67 995 804 996"/><path d="M771 980 L769.2 991.9"/><path d="M779 997.5 L790 1001.5 L804 1001.5 L808 1005"/><path d="M777 999 L777 1007 L788 1013 L800 1015.5 L813 1012.3 L815 1005"/><ellipse cx="774.7" cy="987.8" rx="4.8" ry="2.7" fill="#fff"/><path d="M769.9 987.8V1006L777 1008.5V990"/><ellipse cx="774.7" cy="987.8" rx="2.6" ry="1.4"/><ellipse cx="810.2" cy="992.6" rx="4.8" ry="2.7" fill="#fff"/><path d="M805.4 992.6V1012M815 992.6V1010.5"/><ellipse cx="810.2" cy="992.6" rx="2.6" ry="1.4"/><path d="M779.6 990 L779.6 1008.5" stroke-width="0.6"/></g>
<g class="pt"><path d="M945 985 C944.83 992 943.83 1019.33 944 1027 C944.17 1034.67 944.67 1029.67 946 1031 C947.33 1032.33 951 1034.33 952 1035"/><path d="M945 985 C945.17 984.67 945 983.67 946 983 C947 982.33 950.17 981.33 951 981"/><path d="M955 970.5 C957 969.97 960.33 969.3 962 969.3 C963.67 969.3 964 969.97 965 970.5 C966 971.03 967.17 972.55 968 972.5 C968.83 972.45 968.83 970.37 970 970.2 C971.17 970.03 974 970.7 975 971.5 C976 972.3 975.87 965.25 976 975 C976.13 984.75 976.47 1020 975.8 1030 C975.13 1040 973.63 1033.92 972 1035 C970.37 1036.08 967.33 1035.5 966 1036.5 C964.67 1037.5 965 1039.83 964 1041 C963 1042.17 961.33 1043.33 960 1043.5 C958.67 1043.67 956.83 1042.75 956 1042 C955.17 1041.25 955.83 1039.83 955 1039 C954.17 1038.17 952.17 1038.17 951 1037 C949.83 1035.83 948.55 1041.83 948 1032 C947.45 1022.17 947.37 987.92 947.7 978 C948.03 968.08 948.78 973.75 950 972.5 C951.22 971.25 953 971.03 955 970.5Z"/><path d="M950.5 982 C950.67 990.33 950.75 1023 951.5 1032 C952.25 1041 954.42 1035.33 955 1036" stroke-width="0.6"/><path d="M958 977 C958.5 976.83 960 975.83 961 976 C962 976.17 963.5 976.83 964 978 C964.5 979.17 963.5 981.5 964 983 C964.5 984.5 965.67 986.33 967 987 C968.33 987.67 970.62 987.5 972 987 C973.38 986.5 974.75 984.5 975.3 984"/><path d="M955.3 982 C955.42 990.17 955.38 1022.25 956 1031 C956.62 1039.75 957 1034 959 1034.5 C961 1035 965.33 1034.92 968 1034 C970.67 1033.08 973.83 1029.83 975 1029"/><path d="M955.3 982 L958 977"/><path d="M949 992.5 L950.3 992.5 L950.3 997.5 L949 997.5Z"/><path d="M949 1020.5 L950.3 1020.5 L950.3 1025.5 L949 1025.5Z"/><path d="M960 1038 L962 1042" stroke-width="0.6"/></g>
<g class="pt"><path d="M945.2 1075.6 L957.8 1082.6 L956.2 1086.4 L943.8 1079.4 L943.6 1077.2Z"/><path d="M947.5 1076.9 L946.3 1080.6" stroke-width="0.6"/><path d="M949.8 1078.1 L948.6 1081.8" stroke-width="0.6"/><path d="M952.1 1079.3 L950.9 1083" stroke-width="0.6"/><path d="M954.4 1080.5 L953.2 1084.2" stroke-width="0.6"/><ellipse cx="961.5" cy="1087.6" rx="4.3" ry="5.6" transform="rotate(-35 961.5 1087.6)" fill="#fff"/><ellipse cx="963.2" cy="1088.6" rx="4.3" ry="5.6" transform="rotate(-35 963.2 1088.6)" fill="#fff"/></g>
<g class="pt"><path d="M78.5 926.1 L79.5 919 L82 914.5 L86.9 912.1 L149.5 877.5 L150.8 877.8 L151.3 879.8 L88.5 914.5 L85 917.5 L83.2 921 L82.2 927.9"/><path d="M75.7 929.8 L142.1 894.3"/><path d="M78.5 946.6 L149.5 907.4"/><path d="M71 931.7 L75.7 929.8 L82.2 931.7 L83.2 943.8 L78.5 946.6 L72.9 942Z"/><path d="M82.2 931.7 L145 898" stroke-width="0.6"/><path d="M142.1 894.3 C143.03 895.08 146.47 896.82 147.7 899 C148.93 901.18 149.2 906 149.5 907.4"/><path d="M88 924 C88.67 924.67 90.83 925.83 92 928 C93.17 930.17 94.67 934.67 95 937 C95.33 939.33 94.17 941.17 94 942"/><path d="M92 922 C92.67 922.67 94.83 923.83 96 926 C97.17 928.17 98.67 932.67 99 935 C99.33 937.33 98.17 939.17 98 940"/><path d="M122 905 C122.67 905.67 124.83 907 126 909 C127.17 911 128.67 914.83 129 917 C129.33 919.17 128.17 921.17 128 922"/><path d="M126 903 C126.67 903.67 128.83 905 130 907 C131.17 909 132.67 912.83 133 915 C133.33 917.17 132.17 919.17 132 920"/><ellipse cx="137.4" cy="895.4" rx="2" ry="1.3"/><path d="M78.5 945.5 L78.5 949.4 L82.2 949.4 L82.2 944.5"/></g>
<g class="pt"><path d="M112.1 1006.4 L139.3 991.5 L141.8 993.5 L142.1 999 L114 1013.9"/><path d="M124.5 998.5 L126 1006.5" stroke-width="0.6"/><path d="M127.4 996.9 L128.9 1004.9" stroke-width="0.6"/><path d="M130.3 995.3 L131.8 1003.3" stroke-width="0.6"/><path d="M133.2 993.7 L134.7 1001.7" stroke-width="0.6"/><path d="M136.1 992.1 L137.6 1000.1" stroke-width="0.6"/><path d="M139 990.5 L140.5 998.5" stroke-width="0.6"/><path d="M101 1008 L103.5 1004.5 L108 1003.5 L112 1005.5 L114.5 1010 L113.5 1016 L110 1019.5 L104.5 1019.5 L100.5 1015.5Z"/><path d="M103.5 1008 L108 1006.8 L111 1009.5 L110.5 1014 L106.5 1016.5 L102.5 1014.5Z" stroke-width="0.6"/></g>
<g class="pt" transform="translate(121 1090.3) rotate(-31.7)"><ellipse cx="0" cy="0" rx="2.2" ry="4"/><path d="M0 -4H4V4H0"/><path d="M4 -2.5H7V2.5H4"/><path d="M7 -4.2H10V4.2H7"/><path d="M10 -3.6H13V3.6H10"/><path d="M13 -4.2H16V4.2H13"/><path d="M16 -3.6H19V3.6H16"/><path d="M19 -4.2H22V4.2H19"/><path d="M22 -3.6H25V3.6H22"/><path d="M25 -5.5H30V5.5H25"/><ellipse cx="25" cy="0" rx="1.5" ry="5.5" stroke-width="0.6"/><path d="M30 -8.8H44V8.8H30Z"/><path d="M30 -4H44M30 4H44" stroke-width="0.6"/><ellipse cx="30" cy="0" rx="2" ry="8.8" stroke-width="0.6"/><path d="M44 -7.5H47V7.5H44"/><path d="M47 -6.2H63V6.2H47"/><path d="M48 -6.2L49.5 6.2" stroke-width="0.6"/><path d="M50 -6.2L51.5 6.2" stroke-width="0.6"/><path d="M52 -6.2L53.5 6.2" stroke-width="0.6"/><path d="M54 -6.2L55.5 6.2" stroke-width="0.6"/><path d="M56 -6.2L57.5 6.2" stroke-width="0.6"/><path d="M58 -6.2L59.5 6.2" stroke-width="0.6"/><path d="M60 -6.2L61.5 6.2" stroke-width="0.6"/><path d="M62 -6.2L63.5 6.2" stroke-width="0.6"/><path d="M63 -3H68V3H63"/><path d="M66 -3V-5.5H69V-3" stroke-width="0.7"/></g>
<g class="pt"><ellipse cx="50.7" cy="1094.6" rx="7.8" ry="4.3"/><ellipse cx="50.7" cy="1094.8" rx="5.8" ry="2.9"/><path d="M42.9 1094.6 L42.9 1112 L40 1114.1 L40 1137.6 L52.7 1143.4 L69.3 1135.6 L70.2 1125.9 L62.4 1116.1 L58.5 1114.1 L58.5 1094.6"/><path d="M42.9 1112 C44.2 1112.33 48.1 1114 50.7 1114 C53.3 1114 57.2 1112.33 58.5 1112" stroke-width="0.7"/><path d="M40 1114.1 C41.78 1114.75 47.28 1117.85 50.7 1118 C54.12 1118.15 58.87 1115.5 60.5 1115"/><ellipse cx="47.8" cy="1133.7" rx="7.8" ry="8.8" fill="#fff"/><path d="M60.5 1117 L61 1125 L62 1127" stroke-width="0.6"/></g>
<g class="pt"><ellipse cx="142.4" cy="1152.2" rx="6.8" ry="3.9"/><ellipse cx="142.4" cy="1152.4" rx="4.6" ry="2.5"/><path d="M135.6 1152.2 L135.6 1161.5 L130.3 1163.8 L130.3 1208 L133 1211.5 L142 1206 L150 1199 L153.2 1194 L153.2 1163.8 L149.2 1161.5 L149.2 1152.2"/><path d="M130.3 1163.8 C132.25 1164.25 138.18 1166.5 142 1166.5 C145.82 1166.5 151.33 1164.25 153.2 1163.8"/><path d="M135.6 1161.5 C136.73 1161.75 140.13 1163 142.4 1163 C144.67 1163 148.07 1161.75 149.2 1161.5" stroke-width="0.6"/><path d="M132.5 1167 L132.5 1208" stroke-width="0.6"/><path d="M153.2 1177 L162 1172 L167 1172.5"/><path d="M153.2 1196 L164 1196 L171 1195"/><ellipse cx="172" cy="1184.4" rx="7.8" ry="10.7" fill="#fff"/><ellipse cx="172" cy="1184.4" rx="5.8" ry="8.5" stroke-width="0.6"/><path d="M158 1176 L158 1196" stroke-width="0.6"/><path d="M162 1174 L162 1197" stroke-width="0.6"/><ellipse cx="176" cy="1189.5" rx="1.3" ry="1.3"/></g>
<g class="pt"><path d="M190 1018.3 C189.64 1018.59 189.27 1020.01 187.81 1020.05 C186.34 1020.1 182.56 1019.86 181.22 1018.59 C179.88 1017.32 180 1024.44 179.76 1012.44 C179.51 1000.44 179.39 958.54 179.76 946.59 C180.12 934.64 180.37 943.17 181.95 940.73 C183.54 938.29 186.59 934.64 189.27 931.95 C191.95 929.27 194.88 926.22 198.05 924.63 C201.22 923.05 204.88 922.73 208.3 922.44 C211.71 922.15 216.1 922.51 218.54 922.88 C220.98 923.24 221.83 923.61 222.93 924.63 C224.03 925.66 224.15 927.85 225.13 929.03 C226.1 930.2 228.17 931.22 228.78 931.66" fill="#fff"/><path d="M190.82 1019.33 C190.33 1019.67 189.6 1021.33 187.85 1021.37 C186.1 1021.41 181.88 1021.03 180.32 1019.55 C178.75 1018.06 178.75 1024.64 178.44 1012.47 C178.13 1000.3 178.04 958.62 178.44 946.55 C178.84 934.47 179.2 942.6 180.85 940.02 C182.5 937.43 185.57 933.78 188.34 931.02 C191.11 928.26 194.15 925.11 197.46 923.46 C200.77 921.81 204.64 921.44 208.18 921.13 C211.73 920.81 216.13 921.15 218.73 921.58 C221.34 922 222.59 922.57 223.83 923.67 C225.06 924.77 225.18 927.03 226.14 928.18 C227.09 929.34 228.98 930.19 229.55 930.59" stroke-width="0.55"/><path d="M181.95 1012.44 C181.95 1001.66 180.49 960.44 181.95 947.76 C183.42 935.07 187.07 939.9 190.73 936.34 C194.39 932.78 199.27 928.22 203.9 926.39 C208.54 924.56 215.37 925.05 218.54 925.37 C221.71 925.68 222.2 927.81 222.93 928.29" stroke-width="0.6"/><path d="M189.27 1012.44 C189.27 1002.57 188.54 963.54 189.27 953.17 C190 942.81 191.71 950.86 193.66 950.25 C195.61 949.64 199.27 949.88 200.98 949.51 C202.69 949.15 203.17 948.78 203.9 948.05 C204.64 947.32 205.12 945.61 205.37 945.12"/><path d="M190.73 1009.52 L198.05 1006.59 L199.51 1010.98" stroke-width="0.7"/><path d="M177.56 961.66 L184.88 959.76 L185.61 975.86 L178.29 977.03" fill="#fff"/><ellipse cx="177.56" cy="969.27" rx="6.59" ry="7.61" fill="#fff"/><ellipse cx="177.85" cy="969.56" rx="4.1" ry="4.98"/><ellipse cx="195.86" cy="944.39" rx="6.15" ry="7.02" fill="#fff"/><ellipse cx="196.15" cy="944.68" rx="3.95" ry="4.54"/><ellipse cx="195.86" cy="1016.83" rx="5.56" ry="5.85" fill="#fff"/><ellipse cx="196.15" cy="1017.13" rx="3.51" ry="3.81"/><path d="M208.3 1043.47 C207.56 1043.62 205.32 1044.64 203.9 1044.35 C202.49 1044.06 200.54 1051.67 199.81 1041.71 C199.08 1031.76 199.08 994.64 199.51 984.64 C199.95 974.64 200.98 982.64 202.44 981.71 C203.9 980.78 206.95 980.3 208.3 979.08 C209.64 977.86 210.12 979.81 210.49 974.39 C210.86 968.98 209.88 952.2 210.49 946.59 C211.1 940.98 212.32 942.56 214.15 940.73 C215.98 938.9 219.03 937.07 221.47 935.61 C223.91 934.15 226.59 932.81 228.78 931.95 C230.98 931.1 232.93 930.49 234.64 930.49 C236.35 930.49 238.3 931.71 239.03 931.95" fill="#fff"/><path d="M208.55 1044.76 C207.73 1044.91 205.31 1046.13 203.64 1045.64 C201.96 1045.15 199.4 1051.99 198.49 1041.81 C197.59 1031.63 197.66 994.78 198.2 984.58 C198.74 974.38 200.2 981.68 201.74 980.6 C203.27 979.52 206.17 979.15 207.41 978.1 C208.65 977.05 208.88 979.58 209.18 974.3 C209.47 969.03 208.51 952.2 209.18 946.44 C209.85 940.69 211.28 941.8 213.22 939.8 C215.15 937.81 218.27 935.99 220.79 934.48 C223.3 932.97 226 931.61 228.31 930.72 C230.61 929.84 232.78 929.18 234.64 929.17 C236.49 929.17 238.64 930.45 239.44 930.7" stroke-width="0.55"/><path d="M201.71 1040.98 C201.71 1031.71 200.49 995.37 201.71 985.37 C202.93 975.37 207.25 982.69 209.03 980.98 C210.81 979.27 211.83 980.66 212.39 975.13 C212.95 969.59 211.86 953.2 212.39 947.76 C212.93 942.32 213.86 944.2 215.61 942.49 C217.37 940.78 220.49 938.9 222.93 937.51 C225.37 936.12 228.05 934.88 230.25 934.15 C232.44 933.42 235.13 933.29 236.1 933.12" stroke-width="0.6"/><path d="M221.47 1046.1 C220.25 1046.47 216.3 1048.49 214.15 1048.3 C212 1048.1 209.56 1054.32 208.59 1044.93 C207.61 1035.54 207.61 1001.52 208.3 991.96 C208.98 982.39 211.22 988.74 212.69 987.56 C214.15 986.39 216.1 990.54 217.08 984.93 C218.05 979.32 217.81 960.3 218.54 953.9 C219.27 947.51 219.76 948.66 221.47 946.59 C223.17 944.51 226.34 942.81 228.78 941.46 C231.22 940.12 233.91 939.15 236.1 938.54 C238.3 937.93 240.98 937.93 241.96 937.81" fill="#fff"/><path d="M221.84 1047.37 C220.54 1047.74 216.46 1049.99 214.03 1049.61 C211.6 1049.23 208.45 1054.69 207.28 1045.07 C206.1 1035.44 206.22 1001.62 206.98 991.86 C207.75 982.11 210.4 987.73 211.86 986.54 C213.33 985.34 214.88 990.17 215.78 984.7 C216.67 979.24 216.45 960.25 217.23 953.75 C218.01 947.26 218.63 947.99 220.45 945.75 C222.27 943.51 225.6 941.72 228.15 940.31 C230.7 938.9 233.47 937.9 235.75 937.27 C238.02 936.63 240.78 936.63 241.79 936.5" stroke-width="0.55"/><path d="M210.49 1043.91 C210.44 1035.37 208.86 1002.27 210.2 992.69 C211.54 983.1 216.86 992.74 218.54 986.39 C220.22 980.05 219.52 960.98 220.3 954.64 C221.08 948.29 221.56 950.22 223.22 948.34 C224.88 946.47 227.86 944.64 230.25 943.37 C232.64 942.1 236.35 941.17 237.56 940.73" stroke-width="0.6"/><path d="M225.86 1022.98 C225.13 1023.42 223 1025.42 221.47 1025.62 C219.93 1025.81 217.49 1029.27 216.64 1024.15 C215.78 1019.03 215.78 1000.25 216.34 994.88 C216.91 989.52 218.66 992.81 220 991.96 C221.34 991.1 223.42 995.61 224.39 989.76 C225.37 983.91 225.13 963.3 225.86 956.83 C226.59 950.37 227.08 952.69 228.78 950.98 C230.49 949.27 233.91 947.56 236.1 946.59 C238.3 945.61 240.98 945.37 241.96 945.12" fill="#fff"/><path d="M226.53 1024.11 C225.72 1024.58 223.5 1026.88 221.63 1026.92 C219.77 1026.97 216.44 1029.73 215.34 1024.37 C214.24 1019.01 214.37 1000.33 215.03 994.75 C215.69 989.16 217.95 991.71 219.3 990.84 C220.64 989.98 222.22 995.24 223.09 989.54 C223.97 983.85 223.76 963.27 224.55 956.68 C225.34 950.1 226.02 951.93 227.85 950.05 C229.69 948.16 233.27 946.42 235.57 945.38 C237.86 944.35 240.62 944.1 241.64 943.85" stroke-width="0.55"/><path d="M230.25 943.37 C233.17 941.59 244.15 935.07 247.81 932.68 C251.47 930.29 250.61 929.51 252.2 929.03 C253.79 928.54 255.91 928.54 257.32 929.76 C258.74 930.98 260.08 933.98 260.69 936.34 C261.3 938.71 264.1 941.22 260.98 943.95 C257.86 946.68 246.1 951.08 241.96 952.73 C237.81 954.39 237.08 953.71 236.1 953.9" fill="#fff"/><path d="M229.56 942.24 C232.48 940.47 243.38 933.99 247.09 931.58 C250.8 929.17 249.96 928.24 251.81 927.77 C253.66 927.3 256.49 927.38 258.18 928.76 C259.87 930.13 261.35 933.32 261.96 936.01 C262.57 938.71 265.1 941.95 261.85 944.94 C258.59 947.93 246.69 952.25 242.44 953.96 C238.2 955.67 237.37 954.99 236.36 955.2" stroke-width="0.55"/><path d="M250.74 931.95 C251.59 931.9 254.39 930.68 255.86 931.66 C257.32 932.64 258.86 935.93 259.52 937.81 C260.18 939.68 259.76 942.07 259.81 942.93" stroke-width="0.6"/><ellipse cx="234.64" cy="947.76" rx="4.68" ry="5.85" fill="#fff"/><ellipse cx="234.93" cy="948.05" rx="2.78" ry="3.51"/><ellipse cx="233.91" cy="968.54" rx="5.85" ry="6.59" fill="#fff"/><ellipse cx="234.2" cy="968.83" rx="3.81" ry="4.39"/><path d="M247.7 1036.6 C247.7 1032.28 247.22 1015.4 247.7 1010.7 C248.18 1006 249.23 1009.18 250.6 1008.4 C251.97 1007.62 254.82 1006.9 255.9 1006 C256.98 1005.1 256.9 1008.12 257.1 1003 C257.3 997.88 256.52 981.87 257.1 975.3 C257.68 968.73 258.63 966.73 260.6 963.6 C262.57 960.47 266.53 957.88 268.9 956.5 C271.27 955.12 272.83 954.72 274.8 955.3 C276.77 955.88 279.72 959.22 280.7 960"/><path d="M250 1035 C250 1031.17 248.75 1016.5 250 1012 C251.25 1007.5 255.93 1009.33 257.5 1008 C259.07 1006.67 259.08 1009.33 259.4 1004 C259.72 998.67 258.87 982.42 259.4 976 C259.93 969.58 260.83 968.37 262.6 965.5 C264.37 962.63 267.77 960.05 270 958.8 C272.23 957.55 275 958.13 276 958" stroke-width="0.55"/><path d="M253.6 1034.3 C253.6 1031.15 253.02 1018.95 253.6 1015.4 C254.18 1011.85 255.53 1013.78 257.1 1013 C258.67 1012.22 261.82 1011.87 263 1010.7 C264.18 1009.53 264 1011.3 264.2 1006 C264.4 1000.7 263.82 984.8 264.2 978.9 C264.58 973 265.13 973.15 266.5 970.6 C267.87 968.05 270.03 965.37 272.4 963.6 C274.77 961.83 276.77 959.22 280.7 960 C284.63 960.78 292.67 965.93 296 968.3 C299.33 970.67 299.92 973.22 300.7 974.2"/><path d="M256 1033 C256 1030.25 254.7 1019.83 256 1016.5 C257.3 1013.17 262.05 1014.58 263.8 1013 C265.55 1011.42 266.05 1012.58 266.5 1007 C266.95 1001.42 266.12 985.33 266.5 979.5 C266.88 973.67 267.55 974.25 268.8 972 C270.05 969.75 271.97 967.5 274 966 C276.03 964.5 279.83 963.5 281 963" stroke-width="0.55"/><path d="M297.2 973 L297.2 1070.8"/><path d="M300.7 974.2 L300.7 1069"/><path d="M298.9 974 L298.9 1070" stroke-width="0.5"/><path d="M279.5 963 L279.5 969" stroke-width="0.7"/><path d="M281.8 962 L281.8 968" stroke-width="0.7"/><path d="M268.9 982.4 C272.03 980.63 283.77 973.45 287.7 971.8 C291.63 970.15 291.12 971.32 292.5 972.5 C293.88 973.68 295.52 976.47 296 978.9 C296.48 981.33 295.8 985.33 295.4 987.1 C295 988.87 297.23 987.92 293.6 989.5 C289.97 991.08 276.93 995.42 273.6 996.6"/><ellipse cx="270.1" cy="989.5" rx="5.9" ry="7.1" fill="#fff"/><ellipse cx="270.6" cy="989.8" rx="3.7" ry="4.6"/><path d="M274.8 1014.2 C277.55 1013.62 287.85 1010.9 291.3 1010.7 C294.75 1010.5 294.72 1011.03 295.5 1013 C296.28 1014.97 298.67 1019.75 296 1022.5 C293.33 1025.25 282.25 1028.33 279.5 1029.5"/><ellipse cx="276" cy="1021.3" rx="6.5" ry="7.1" fill="#fff"/><ellipse cx="276.5" cy="1021.6" rx="4" ry="4.6"/><path d="M274.8 996.6 L274.8 1014.2" stroke-width="0.8"/><path d="M285.4 994.2 C285.98 995.38 288.52 998.55 288.9 1001.3 C289.28 1004.05 287.9 1009.13 287.7 1010.7" stroke-width="0.7"/><path d="M292 990 L293 1010" stroke-width="0.6"/><path d="M250 1035.4 L296 1024.8"/><path d="M253.6 1042.5 L296 1033.1"/><ellipse cx="251.8" cy="1038.4" rx="2.4" ry="2.4" fill="#fff"/><ellipse cx="251.8" cy="1038.4" rx="1.1" ry="1.1"/><path d="M264.2 1046 L264.2 1077.8 L268.9 1080.2 L293.6 1072 L293.6 1039"/><path d="M266.5 1047 L266.5 1076.5 L269.5 1078 L291.3 1071" stroke-width="0.55"/><path d="M268.9 1043.7 L291.3 1036.6 L295 1038.5"/><ellipse cx="265.3" cy="1042.5" rx="4.2" ry="4.4" fill="#fff"/><ellipse cx="265.5" cy="1042.8" rx="2.2" ry="2.3"/><path d="M240 984 C242.5 983.33 247.33 982 250 983 C252.67 984 254.58 987 256 990 C257.42 993 258.67 997.33 258.5 1001 C258.33 1004.67 256.83 1009.42 255 1012 C253.17 1014.58 250 1016.17 247.5 1016.5 C245 1016.83 242.25 1015.75 240 1014 C237.75 1012.25 235.25 1009.17 234 1006 C232.75 1002.83 232.33 998.17 232.5 995 C232.67 991.83 233.75 988.83 235 987 C236.25 985.17 237.5 984.67 240 984Z" fill="#fff"/><ellipse cx="246.5" cy="1001.3" rx="8.2" ry="11.2" transform="rotate(-25 246.5 1001.3)" fill="#fff"/><ellipse cx="247" cy="1002" rx="5.2" ry="7.6" transform="rotate(-25 247 1002)"/><path d="M238 995 C237.67 996.17 235.67 999.5 236 1002 C236.33 1004.5 238.17 1008.08 240 1010 C241.83 1011.92 245.83 1012.92 247 1013.5" stroke-width="0.7"/><path d="M231.71 1031.47 L233.17 1062.2 L237.56 1064.4 L243.42 1065.42 L247.81 1063.96 L247.81 1041.71" fill="#fff"/><path d="M233.03 1031.41 L234.47 1061.97 L237.96 1063.14 L243.36 1064.11 L246.51 1063.72 L246.49 1041.71" stroke-width="0.55"/><path d="M233.91 1032.2 L235.37 1060.74 L241.96 1062.93 L246.35 1062.2" stroke-width="0.6"/><path d="M239.03 1030.01 L239.76 1059.28" stroke-width="0.6"/><path d="M252.2 1068.06 L263.91 1063.67 L265.37 1070.25 L255.13 1075.37" fill="#fff"/><ellipse cx="252.2" cy="1071.72" rx="3.81" ry="4.1" fill="#fff"/><ellipse cx="252.49" cy="1072.01" rx="1.76" ry="1.9"/></g>
<!-- BOXES -->
<g class="bx">
<rect x="65.7" y="21.2" width="207.9" height="162.1"/><line x1="65.7" y1="43.5" x2="273.6" y2="43.5"/>
<rect x="383.6" y="21.2" width="207.9" height="162.1"/><line x1="383.6" y1="43.5" x2="591.5" y2="43.5"/>
<rect x="701.5" y="21.5" width="255.1" height="255.6"/><line x1="701.5" y1="43.6" x2="956.6" y2="43.6"/>
<rect x="20.2" y="211.5" width="477.9" height="258.5"/><line x1="20.2" y1="232.9" x2="498.1" y2="232.9"/>
<rect x="20.5" y="496.2" width="269.1" height="189.9"/><line x1="20.5" y1="519.7" x2="289.6" y2="519.7"/>
<rect x="387.3" y="525.4" width="614.3" height="385.4"/><path d="M387.3 546.5H406.5V525.4"/>
<rect x="413.2" y="548.6" width="92.2" height="57.6"/><path d="M413.2 570H432.5V548.6"/>
<rect x="795.6" y="546.6" width="191.1" height="220.5"/><path d="M795.6 567.5H833.1V546.6"/>
<rect x="651" y="776.2" width="196.6" height="120.2"/><path d="M651 799H681.6V776.2"/>
<rect x="648.3" y="927.8" width="177.6" height="112.6"/><path d="M648.3 950.5H690.5V927.8"/>
<rect x="841.4" y="927.8" width="160.3" height="133.2"/><path d="M841.4 948.4H861.2V927.8"/>
<rect x="502" y="818.5" width="112.8" height="21.5"/><line x1="539.9" y1="818.5" x2="539.9" y2="840"/><line x1="577.3" y1="818.5" x2="577.3" y2="840"/>
</g>
<!-- HEADERS -->
<g class="hd">
<text x="70.6" y="38.1" textLength="198.4" lengthAdjust="spacingAndGlyphs">1058 OPERATOR’S MANUAL</text>
<text x="408.6" y="38.1" textLength="157.7" lengthAdjust="spacingAndGlyphs">1330 REPAIR MANUAL</text>
<text x="750.6" y="38" textLength="157.9" lengthAdjust="spacingAndGlyphs">1319 WARNING LABEL</text>
<text x="151.3" y="228.7" textLength="182.9" lengthAdjust="spacingAndGlyphs">358 ENGINE GASKET SET</text>
<text x="60.4" y="514.9" textLength="178.8" lengthAdjust="spacingAndGlyphs">1095 VALVE GASKET SET</text>
</g>
<!-- LABELS -->
<g class="lb" transform="translate(0 0.4)">
<text x="41.2" y="272">3</text>
<text x="39.3" y="346.8">7</text>
<text x="37.3" y="435.4">9</text>
<text x="184.9" y="318.3">12</text>
<text x="185.6" y="364.6">20</text>
<text x="223.4" y="398">51</text>
<text x="195.9" y="446.3">51A</text>
<text x="409.8" y="266.5">163</text>
<text x="418.2" y="320.5">444</text>
<text x="420.7" y="364.4">524</text>
<text x="420.5" y="403">868</text>
<text x="404" y="454.2">883</text>
<text x="28.4" y="582.8">7</text>
<text x="175" y="586.2">9</text>
<text x="184.6" y="657">883</text>
<text x="771.4" y="343.2">529</text>
<text x="589.9" y="404.5">426</text>
<text x="588" y="444.3">200</text>
<text x="784.8" y="428">11</text>
<text x="391.5" y="542">1</text>
<text x="417.5" y="565">2</text>
<text x="428" y="587">3</text>
<text x="558" y="544.9">668</text>
<text x="610.5" y="561.4">745</text>
<text x="596.3" y="775.4">718</text>
<text x="507" y="835.5">870</text>
<text x="544.5" y="835.5">869</text>
<text x="582" y="835.5">871</text>
<text x="709.7" y="585.6">523A</text>
<text x="715.7" y="688.5">524</text>
<text x="802.6" y="563">847</text>
<text x="820" y="619.8">523</text>
<text x="814.3" y="648.6">842</text>
<text x="902" y="638">525</text>
<text x="876.3" y="702.1">287</text>
<text x="913.2" y="740.2">524</text>
<text x="657.7" y="795">50</text>
<text x="802.5" y="802.3">54</text>
<text x="738.6" y="880.8">51</text>
<text x="654.6" y="946.5">50A</text>
<text x="780.8" y="963.9">54</text>
<text x="709.7" y="1028.5">51A</text>
<text x="848.2" y="944.3">8</text>
<text x="870.3" y="998.2">9</text>
<text x="921.6" y="1100.3">10</text>
<text x="187.7" y="748.4">306</text>
<text x="191.9" y="833.5">307</text>
<text x="38.1" y="942">383</text>
<text x="153.7" y="944">5</text>
<text x="271.7" y="912">7</text>
<text x="75" y="1017">13</text>
<text x="88.9" y="1077.2">337</text>
<text x="9" y="1135.4">635</text>
<text x="98.4" y="1202.2">362</text>
</g>
<text x="418.7" y="1225.8" style="font-size:6.6px;font-weight:bold" textLength="188" lengthAdjust="spacingAndGlyphs">Copyright © Briggs &amp; Stratton, LLC. All rights reserved.</text>
</svg>
</body></html>
